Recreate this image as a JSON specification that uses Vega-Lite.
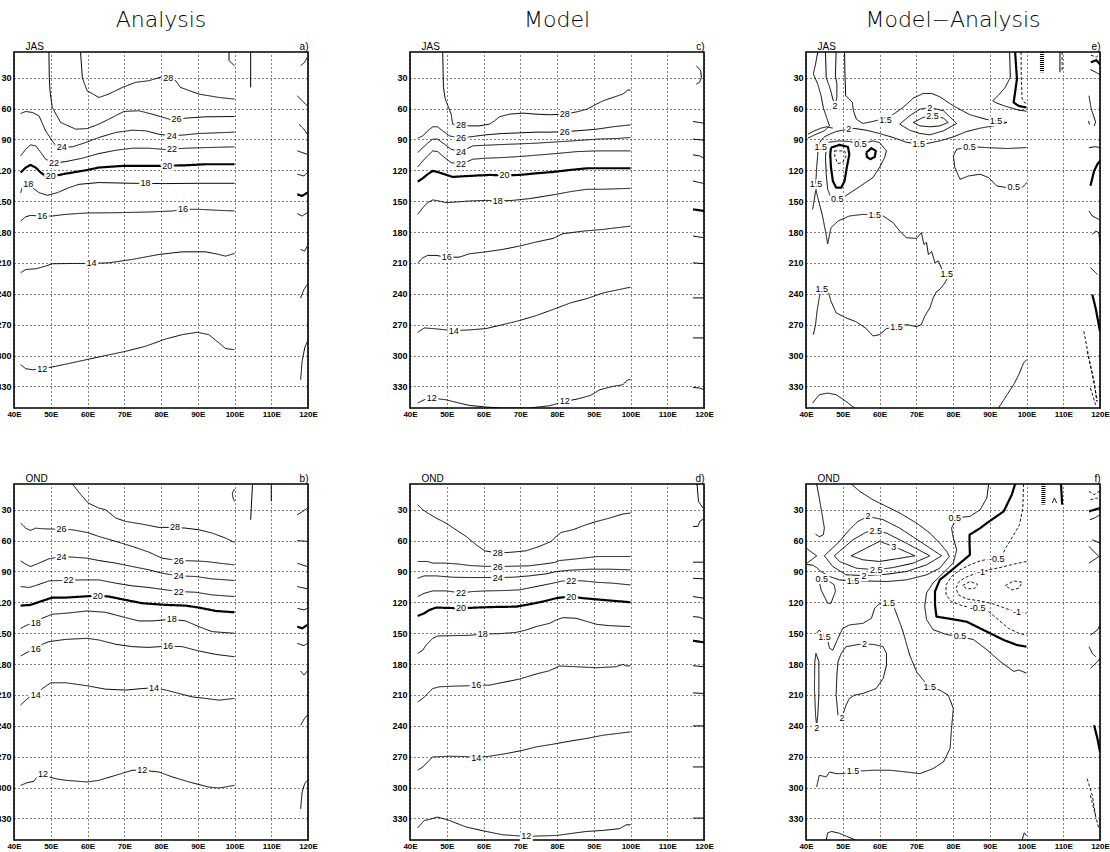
{
"$schema": "https://vega.github.io/schema/vega-lite/v6.json",
"background": "white",
"padding": {"left": -5, "top": 8, "right": 0, "bottom": 0},
"config": {
  "view": {"stroke": "black", "strokeWidth": 1.6},
  "axis": {"labelFont": "Liberation Sans", "labelFontWeight": "bold", "labelColor": "black", "titleFont": "Liberation Sans", "titleFontWeight": "normal", "titleColor": "black", "domain": false, "ticks": false, "labelFlush": false, "labelOverlap": false},
  "title": {"font": "DejaVu Sans", "color": "black", "anchor": "middle"}
},
"datasets": {
"L": [
{"p":"a","id":"a1","t":"c","x":58.1,"y":5},{"p":"a","id":"a1","t":"c","x":58.6,"y":30},{"p":"a","id":"a1","t":"c","x":59.9,"y":42.7},{"p":"a","id":"a1","t":"c","x":63.1,"y":49.2},{"p":"a","id":"a1","t":"c","x":65.8,"y":45.9},{"p":"a","id":"a1","t":"c","x":69.5,"y":39.4},{"p":"a","id":"a1","t":"c","x":73.1,"y":34.5},{"p":"a","id":"a1","t":"c","x":76.7,"y":32.9},{"p":"a","id":"a1","t":"c","x":80.3,"y":29},{"p":"a","id":"a1","t":"c","x":84,"y":32.9},{"p":"a","id":"a1","t":"c","x":85.3,"y":39.4},{"p":"a","id":"a1","t":"c","x":90.3,"y":45.9},{"p":"a","id":"a1","t":"c","x":95.8,"y":49.2},{"p":"a","id":"a1","t":"c","x":100,"y":50.8},
{"p":"a","id":"a2","t":"c","x":49.5,"y":5},{"p":"a","id":"a2","t":"c","x":49.6,"y":30},{"p":"a","id":"a2","t":"c","x":49.8,"y":42.7},{"p":"a","id":"a2","t":"c","x":50.4,"y":58.9},{"p":"a","id":"a2","t":"c","x":52.7,"y":73.5},{"p":"a","id":"a2","t":"c","x":56.8,"y":80},{"p":"a","id":"a2","t":"c","x":59.9,"y":79.4},{"p":"a","id":"a2","t":"c","x":63.1,"y":75.1},{"p":"a","id":"a2","t":"c","x":65.8,"y":70.3},{"p":"a","id":"a2","t":"c","x":69.9,"y":62.8},{"p":"a","id":"a2","t":"c","x":74,"y":62.1},{"p":"a","id":"a2","t":"c","x":77.6,"y":65.4},{"p":"a","id":"a2","t":"c","x":83.1,"y":71.2},{"p":"a","id":"a2","t":"c","x":86.7,"y":69.3},{"p":"a","id":"a2","t":"c","x":92.1,"y":68},{"p":"a","id":"a2","t":"c","x":100,"y":67.7},
{"p":"a","id":"a3","t":"c","x":41.8,"y":64.7},{"p":"a","id":"a3","t":"c","x":43.2,"y":62.8},{"p":"a","id":"a3","t":"c","x":45,"y":63.8},{"p":"a","id":"a3","t":"c","x":46.8,"y":67},{"p":"a","id":"a3","t":"c","x":48.6,"y":81.6},{"p":"a","id":"a3","t":"c","x":50.4,"y":91.4},{"p":"a","id":"a3","t":"c","x":51.8,"y":97.9},{"p":"a","id":"a3","t":"c","x":55.9,"y":97.2},{"p":"a","id":"a3","t":"c","x":59.5,"y":93},{"p":"a","id":"a3","t":"c","x":63.1,"y":88.1},{"p":"a","id":"a3","t":"c","x":67.7,"y":83.2},{"p":"a","id":"a3","t":"c","x":72.2,"y":81},{"p":"a","id":"a3","t":"c","x":75.8,"y":81.6},{"p":"a","id":"a3","t":"c","x":79.4,"y":84.9},{"p":"a","id":"a3","t":"c","x":82.9,"y":86.5},{"p":"a","id":"a3","t":"c","x":86.7,"y":85.5},{"p":"a","id":"a3","t":"c","x":90.3,"y":84.2},{"p":"a","id":"a3","t":"c","x":100,"y":82.9},
{"p":"a","id":"a4","t":"c","x":41.8,"y":106},{"p":"a","id":"a4","t":"c","x":43.2,"y":99.5},{"p":"a","id":"a4","t":"c","x":44.5,"y":95.3},{"p":"a","id":"a4","t":"c","x":45.9,"y":96.2},{"p":"a","id":"a4","t":"c","x":47.3,"y":102.7},{"p":"a","id":"a4","t":"c","x":48.6,"y":109.2},{"p":"a","id":"a4","t":"c","x":50.9,"y":112.8},{"p":"a","id":"a4","t":"c","x":54.1,"y":111.5},{"p":"a","id":"a4","t":"c","x":58.6,"y":108.2},{"p":"a","id":"a4","t":"c","x":63.1,"y":103.7},{"p":"a","id":"a4","t":"c","x":67.7,"y":100.5},{"p":"a","id":"a4","t":"c","x":72.2,"y":98.5},{"p":"a","id":"a4","t":"c","x":76.7,"y":98.5},{"p":"a","id":"a4","t":"c","x":81.3,"y":99.8},{"p":"a","id":"a4","t":"c","x":86.7,"y":98.5},{"p":"a","id":"a4","t":"c","x":92.1,"y":97.9},{"p":"a","id":"a4","t":"c","x":100,"y":97.2},
{"p":"a","id":"a5","t":"z","x":41.8,"y":122.2},{"p":"a","id":"a5","t":"z","x":43.2,"y":117.3},{"p":"a","id":"a5","t":"z","x":44.5,"y":114.7},{"p":"a","id":"a5","t":"z","x":45.9,"y":117.3},{"p":"a","id":"a5","t":"z","x":47.3,"y":122.2},{"p":"a","id":"a5","t":"z","x":48.6,"y":125.5},{"p":"a","id":"a5","t":"z","x":50,"y":126.1},{"p":"a","id":"a5","t":"z","x":54.1,"y":123.2},{"p":"a","id":"a5","t":"z","x":59.5,"y":120},{"p":"a","id":"a5","t":"z","x":63.1,"y":117.3},{"p":"a","id":"a5","t":"z","x":69.5,"y":115.7},{"p":"a","id":"a5","t":"z","x":79.4,"y":115.7},{"p":"a","id":"a5","t":"z","x":86.7,"y":115.1},{"p":"a","id":"a5","t":"z","x":92.1,"y":114.1},{"p":"a","id":"a5","t":"z","x":100,"y":114.1},
{"p":"a","id":"a6","t":"c","x":41.8,"y":141.7},{"p":"a","id":"a6","t":"c","x":42.5,"y":134},{"p":"a","id":"a6","t":"c","x":43.9,"y":132.9},{"p":"a","id":"a6","t":"c","x":45,"y":136.8},{"p":"a","id":"a6","t":"c","x":46.8,"y":141.7},{"p":"a","id":"a6","t":"c","x":49.1,"y":144.3},{"p":"a","id":"a6","t":"c","x":51.8,"y":141.7},{"p":"a","id":"a6","t":"c","x":55,"y":136.8},{"p":"a","id":"a6","t":"c","x":57.7,"y":133.6},{"p":"a","id":"a6","t":"c","x":63.1,"y":131.9},{"p":"a","id":"a6","t":"c","x":72.2,"y":132.6},{"p":"a","id":"a6","t":"c","x":81.3,"y":132.9},{"p":"a","id":"a6","t":"c","x":90.3,"y":132.6},{"p":"a","id":"a6","t":"c","x":100,"y":132.6},
{"p":"a","id":"a7","t":"c","x":41.8,"y":169.3},{"p":"a","id":"a7","t":"c","x":43.2,"y":165.1},{"p":"a","id":"a7","t":"c","x":44.5,"y":163.8},{"p":"a","id":"a7","t":"c","x":47.7,"y":164.5},{"p":"a","id":"a7","t":"c","x":50.4,"y":164.4},{"p":"a","id":"a7","t":"c","x":54.1,"y":162.8},{"p":"a","id":"a7","t":"c","x":59.5,"y":161.5},{"p":"a","id":"a7","t":"c","x":67.7,"y":161.2},{"p":"a","id":"a7","t":"c","x":76.7,"y":160.5},{"p":"a","id":"a7","t":"c","x":83.1,"y":159.5},{"p":"a","id":"a7","t":"c","x":86,"y":157.9},{"p":"a","id":"a7","t":"c","x":90.3,"y":157.9},{"p":"a","id":"a7","t":"c","x":95.8,"y":158.9},{"p":"a","id":"a7","t":"c","x":100,"y":159.5},
{"p":"a","id":"a8","t":"c","x":41.8,"y":219.6},{"p":"a","id":"a8","t":"c","x":43.2,"y":216.4},{"p":"a","id":"a8","t":"c","x":45.9,"y":215.7},{"p":"a","id":"a8","t":"c","x":48.6,"y":213.1},{"p":"a","id":"a8","t":"c","x":50.4,"y":210.8},{"p":"a","id":"a8","t":"c","x":56.8,"y":210.5},{"p":"a","id":"a8","t":"c","x":61.1,"y":210.5},{"p":"a","id":"a8","t":"c","x":65.8,"y":209.9},{"p":"a","id":"a8","t":"c","x":72.2,"y":206.6},{"p":"a","id":"a8","t":"c","x":79.4,"y":201.8},{"p":"a","id":"a8","t":"c","x":85.8,"y":199.2},{"p":"a","id":"a8","t":"c","x":92.1,"y":199.2},{"p":"a","id":"a8","t":"c","x":94.9,"y":201.1},{"p":"a","id":"a8","t":"c","x":97.6,"y":203.4},{"p":"a","id":"a8","t":"c","x":100,"y":200.8},
{"p":"a","id":"a9","t":"c","x":41.8,"y":308.9},{"p":"a","id":"a9","t":"c","x":43.2,"y":312.8},{"p":"a","id":"a9","t":"c","x":45,"y":313.8},{"p":"a","id":"a9","t":"c","x":47.7,"y":312.8},{"p":"a","id":"a9","t":"c","x":51.3,"y":310.5},{"p":"a","id":"a9","t":"c","x":56.8,"y":306.3},{"p":"a","id":"a9","t":"c","x":63.1,"y":301.4},{"p":"a","id":"a9","t":"c","x":70.4,"y":295.9},{"p":"a","id":"a9","t":"c","x":75.8,"y":291},{"p":"a","id":"a9","t":"c","x":81.3,"y":283.9},{"p":"a","id":"a9","t":"c","x":85.8,"y":279.7},{"p":"a","id":"a9","t":"c","x":89.9,"y":277.4},{"p":"a","id":"a9","t":"c","x":93,"y":279.7},{"p":"a","id":"a9","t":"c","x":95.8,"y":287.8},{"p":"a","id":"a9","t":"c","x":97.6,"y":293.3},{"p":"a","id":"a9","t":"c","x":100,"y":294.3},
{"p":"a","id":"a10","t":"c","x":98.5,"y":5},{"p":"a","id":"a10","t":"c","x":98.5,"y":13.4},{"p":"a","id":"a10","t":"c","x":100,"y":18.3},
{"p":"a","id":"a11","t":"c","x":104.4,"y":5},{"p":"a","id":"a11","t":"c","x":104.4,"y":39.4},
{"p":"a","id":"a12","t":"c","x":118,"y":18.3},{"p":"a","id":"a12","t":"c","x":119.1,"y":15},{"p":"a","id":"a12","t":"c","x":119.8,"y":10.2},
{"p":"a","id":"a13","t":"c","x":117.1,"y":47.5},{"p":"a","id":"a13","t":"c","x":118.4,"y":52.4},{"p":"a","id":"a13","t":"c","x":119.8,"y":57.3},
{"p":"a","id":"a14","t":"c","x":117.5,"y":75.1},{"p":"a","id":"a14","t":"c","x":118.9,"y":80},{"p":"a","id":"a14","t":"c","x":119.8,"y":84.9},
{"p":"a","id":"a15","t":"c","x":117.1,"y":101.1},{"p":"a","id":"a15","t":"c","x":118.4,"y":102.7},{"p":"a","id":"a15","t":"c","x":119.8,"y":104.4},
{"p":"a","id":"a16","t":"c","x":117.1,"y":123.8},{"p":"a","id":"a16","t":"c","x":118.9,"y":125.5},{"p":"a","id":"a16","t":"c","x":119.8,"y":122.2},
{"p":"a","id":"a17","t":"z","x":117.1,"y":143.3},{"p":"a","id":"a17","t":"z","x":118.4,"y":144.9},{"p":"a","id":"a17","t":"z","x":119.8,"y":141.7},
{"p":"a","id":"a18","t":"c","x":117.1,"y":162.1},{"p":"a","id":"a18","t":"c","x":118.4,"y":164.4},{"p":"a","id":"a18","t":"c","x":119.8,"y":161.2},
{"p":"a","id":"a19","t":"c","x":118,"y":196.9},{"p":"a","id":"a19","t":"c","x":119.1,"y":198.5},{"p":"a","id":"a19","t":"c","x":119.8,"y":193.8},
{"p":"a","id":"a20","t":"c","x":118,"y":244},{"p":"a","id":"a20","t":"c","x":118.9,"y":235.8},{"p":"a","id":"a20","t":"c","x":119.8,"y":231},
{"p":"a","id":"a21","t":"c","x":118,"y":323.5},{"p":"a","id":"a21","t":"c","x":118.4,"y":305.6},{"p":"a","id":"a21","t":"c","x":119.1,"y":292.7},{"p":"a","id":"a21","t":"c","x":119.8,"y":286.2},

{"p":"b","id":"b1","t":"c","x":55.9,"y":5},{"p":"b","id":"b1","t":"c","x":58.2,"y":15.4},{"p":"b","id":"b1","t":"c","x":60.2,"y":23.5},{"p":"b","id":"b1","t":"c","x":63.1,"y":28.4},{"p":"b","id":"b1","t":"c","x":64.9,"y":30},{"p":"b","id":"b1","t":"c","x":67.7,"y":38.1},{"p":"b","id":"b1","t":"c","x":70.4,"y":41.4},{"p":"b","id":"b1","t":"c","x":74.9,"y":44},{"p":"b","id":"b1","t":"c","x":79.4,"y":47.2},{"p":"b","id":"b1","t":"c","x":83.8,"y":47.2},{"p":"b","id":"b1","t":"c","x":86.7,"y":47.9},{"p":"b","id":"b1","t":"c","x":90.3,"y":49.5},{"p":"b","id":"b1","t":"c","x":93.9,"y":52.7},{"p":"b","id":"b1","t":"c","x":97.6,"y":57.6},{"p":"b","id":"b1","t":"c","x":100,"y":61.8},
{"p":"b","id":"b2","t":"c","x":41.8,"y":43},{"p":"b","id":"b2","t":"c","x":43.2,"y":47.9},{"p":"b","id":"b2","t":"c","x":44.5,"y":50.1},{"p":"b","id":"b2","t":"c","x":45.9,"y":47.9},{"p":"b","id":"b2","t":"c","x":47.7,"y":48.5},{"p":"b","id":"b2","t":"c","x":50.4,"y":48.8},{"p":"b","id":"b2","t":"c","x":52.9,"y":48.8},{"p":"b","id":"b2","t":"c","x":55.9,"y":49.5},{"p":"b","id":"b2","t":"c","x":59.9,"y":52.1},{"p":"b","id":"b2","t":"c","x":63.1,"y":56},{"p":"b","id":"b2","t":"c","x":67.7,"y":60.8},{"p":"b","id":"b2","t":"c","x":72.2,"y":65.7},{"p":"b","id":"b2","t":"c","x":76.7,"y":71.2},{"p":"b","id":"b2","t":"c","x":80.3,"y":77.1},{"p":"b","id":"b2","t":"c","x":84.8,"y":79.4},{"p":"b","id":"b2","t":"c","x":88.5,"y":79.7},{"p":"b","id":"b2","t":"c","x":92.1,"y":80.3},{"p":"b","id":"b2","t":"c","x":95.8,"y":81.9},{"p":"b","id":"b2","t":"c","x":100,"y":83.6},
{"p":"b","id":"b3","t":"c","x":41.8,"y":79.7},{"p":"b","id":"b3","t":"c","x":43.2,"y":82.9},{"p":"b","id":"b3","t":"c","x":44.5,"y":85.2},{"p":"b","id":"b3","t":"c","x":46.8,"y":81.9},{"p":"b","id":"b3","t":"c","x":49.5,"y":77.7},{"p":"b","id":"b3","t":"c","x":52.9,"y":75.5},{"p":"b","id":"b3","t":"c","x":55.9,"y":76.1},{"p":"b","id":"b3","t":"c","x":59.9,"y":77.1},{"p":"b","id":"b3","t":"c","x":63.1,"y":79.4},{"p":"b","id":"b3","t":"c","x":67.7,"y":81.9},{"p":"b","id":"b3","t":"c","x":72.2,"y":85.2},{"p":"b","id":"b3","t":"c","x":76.7,"y":88.4},{"p":"b","id":"b3","t":"c","x":80.3,"y":91.7},{"p":"b","id":"b3","t":"c","x":84.8,"y":94.3},{"p":"b","id":"b3","t":"c","x":89.4,"y":94.9},{"p":"b","id":"b3","t":"c","x":93.9,"y":97.2},{"p":"b","id":"b3","t":"c","x":100,"y":98.8},
{"p":"b","id":"b4","t":"c","x":41.8,"y":104.7},{"p":"b","id":"b4","t":"c","x":44.1,"y":105.6},{"p":"b","id":"b4","t":"c","x":45.9,"y":103.7},{"p":"b","id":"b4","t":"c","x":49.5,"y":99.2},{"p":"b","id":"b4","t":"c","x":54.8,"y":98.5},{"p":"b","id":"b4","t":"c","x":58.6,"y":98.2},{"p":"b","id":"b4","t":"c","x":63.1,"y":98.2},{"p":"b","id":"b4","t":"c","x":67.7,"y":101.4},{"p":"b","id":"b4","t":"c","x":72.2,"y":104},{"p":"b","id":"b4","t":"c","x":76.7,"y":105.6},{"p":"b","id":"b4","t":"c","x":81.3,"y":107.9},{"p":"b","id":"b4","t":"c","x":84.8,"y":109.5},{"p":"b","id":"b4","t":"c","x":89.4,"y":110.2},{"p":"b","id":"b4","t":"c","x":93.9,"y":112.8},{"p":"b","id":"b4","t":"c","x":100,"y":114.4},
{"p":"b","id":"b5","t":"z","x":41.8,"y":123.2},{"p":"b","id":"b5","t":"z","x":44.5,"y":122.5},{"p":"b","id":"b5","t":"z","x":47.7,"y":118.6},{"p":"b","id":"b5","t":"z","x":50.4,"y":115.4},{"p":"b","id":"b5","t":"z","x":54.1,"y":115.4},{"p":"b","id":"b5","t":"z","x":58.6,"y":114.4},{"p":"b","id":"b5","t":"z","x":62.8,"y":113.4},{"p":"b","id":"b5","t":"z","x":65.8,"y":114.4},{"p":"b","id":"b5","t":"z","x":70.4,"y":117.7},{"p":"b","id":"b5","t":"z","x":74.9,"y":120.9},{"p":"b","id":"b5","t":"z","x":81.3,"y":122.5},{"p":"b","id":"b5","t":"z","x":86.7,"y":123.2},{"p":"b","id":"b5","t":"z","x":90.3,"y":125.1},{"p":"b","id":"b5","t":"z","x":94.9,"y":128.4},{"p":"b","id":"b5","t":"z","x":100,"y":129.7},
{"p":"b","id":"b6","t":"c","x":41.8,"y":145.3},{"p":"b","id":"b6","t":"c","x":43.6,"y":142},{"p":"b","id":"b6","t":"c","x":45.9,"y":139.7},{"p":"b","id":"b6","t":"c","x":47.7,"y":135.5},{"p":"b","id":"b6","t":"c","x":50.4,"y":131.6},{"p":"b","id":"b6","t":"c","x":54.1,"y":130.6},{"p":"b","id":"b6","t":"c","x":59.9,"y":128.4},{"p":"b","id":"b6","t":"c","x":64.9,"y":129.7},{"p":"b","id":"b6","t":"c","x":70.4,"y":134.9},{"p":"b","id":"b6","t":"c","x":74,"y":138.1},{"p":"b","id":"b6","t":"c","x":77.6,"y":138.1},{"p":"b","id":"b6","t":"c","x":82.9,"y":136.5},{"p":"b","id":"b6","t":"c","x":86.7,"y":138.1},{"p":"b","id":"b6","t":"c","x":90.3,"y":143.6},{"p":"b","id":"b6","t":"c","x":93.9,"y":148.5},{"p":"b","id":"b6","t":"c","x":100,"y":150.1},
{"p":"b","id":"b7","t":"c","x":41.8,"y":172.2},{"p":"b","id":"b7","t":"c","x":43.6,"y":168.6},{"p":"b","id":"b7","t":"c","x":45.9,"y":165.7},{"p":"b","id":"b7","t":"c","x":47.7,"y":160.8},{"p":"b","id":"b7","t":"c","x":49.5,"y":158.2},{"p":"b","id":"b7","t":"c","x":54.1,"y":156},{"p":"b","id":"b7","t":"c","x":59.9,"y":155},{"p":"b","id":"b7","t":"c","x":63.1,"y":156.6},{"p":"b","id":"b7","t":"c","x":67.7,"y":160.8},{"p":"b","id":"b7","t":"c","x":72.2,"y":163.1},{"p":"b","id":"b7","t":"c","x":76.7,"y":163.8},{"p":"b","id":"b7","t":"c","x":81.9,"y":162.5},{"p":"b","id":"b7","t":"c","x":85.8,"y":163.1},{"p":"b","id":"b7","t":"c","x":90.3,"y":167.3},{"p":"b","id":"b7","t":"c","x":94.9,"y":170.6},{"p":"b","id":"b7","t":"c","x":100,"y":172.9},
{"p":"b","id":"b8","t":"c","x":41.8,"y":219.9},{"p":"b","id":"b8","t":"c","x":43.2,"y":215.1},{"p":"b","id":"b8","t":"c","x":44.5,"y":211.2},{"p":"b","id":"b8","t":"c","x":45.9,"y":210.2},{"p":"b","id":"b8","t":"c","x":47.7,"y":203.8},{"p":"b","id":"b8","t":"c","x":50,"y":198.2},{"p":"b","id":"b8","t":"c","x":54.1,"y":198.2},{"p":"b","id":"b8","t":"c","x":59.9,"y":201.1},{"p":"b","id":"b8","t":"c","x":64.9,"y":204.4},{"p":"b","id":"b8","t":"c","x":70.4,"y":205.3},{"p":"b","id":"b8","t":"c","x":74.9,"y":203.8},{"p":"b","id":"b8","t":"c","x":78.1,"y":203.1},{"p":"b","id":"b8","t":"c","x":81.3,"y":205.3},{"p":"b","id":"b8","t":"c","x":84.9,"y":208.6},{"p":"b","id":"b8","t":"c","x":88.5,"y":211.9},{"p":"b","id":"b8","t":"c","x":92.1,"y":213.4},{"p":"b","id":"b8","t":"c","x":95.8,"y":215.1},{"p":"b","id":"b8","t":"c","x":100,"y":213.4},
{"p":"b","id":"b9","t":"c","x":41.8,"y":297.9},{"p":"b","id":"b9","t":"c","x":43.6,"y":295.3},{"p":"b","id":"b9","t":"c","x":45.4,"y":294},{"p":"b","id":"b9","t":"c","x":46.3,"y":289.7},{"p":"b","id":"b9","t":"c","x":47.9,"y":286.5},{"p":"b","id":"b9","t":"c","x":49.5,"y":289.7},{"p":"b","id":"b9","t":"c","x":51.3,"y":291.4},{"p":"b","id":"b9","t":"c","x":54.1,"y":293},{"p":"b","id":"b9","t":"c","x":59.9,"y":294.6},{"p":"b","id":"b9","t":"c","x":63.1,"y":293},{"p":"b","id":"b9","t":"c","x":67.7,"y":288.1},{"p":"b","id":"b9","t":"c","x":72.2,"y":283.2},{"p":"b","id":"b9","t":"c","x":74.9,"y":283.2},{"p":"b","id":"b9","t":"c","x":79.4,"y":284.9},{"p":"b","id":"b9","t":"c","x":83.1,"y":289.7},{"p":"b","id":"b9","t":"c","x":87.6,"y":294.6},{"p":"b","id":"b9","t":"c","x":93,"y":299.5},{"p":"b","id":"b9","t":"c","x":95.8,"y":300.5},{"p":"b","id":"b9","t":"c","x":100,"y":297.9},
{"p":"b","id":"b10","t":"c","x":100,"y":9.9},{"p":"b","id":"b10","t":"c","x":99.4,"y":13.8},{"p":"b","id":"b10","t":"c","x":99.6,"y":18.6},{"p":"b","id":"b10","t":"c","x":100,"y":21.9},
{"p":"b","id":"b11","t":"c","x":104.9,"y":5},{"p":"b","id":"b11","t":"c","x":104.4,"y":39.7},
{"p":"b","id":"b12","t":"c","x":110,"y":5},{"p":"b","id":"b12","t":"c","x":110,"y":21.9},
{"p":"b","id":"b13","t":"c","x":117.1,"y":34.9},{"p":"b","id":"b13","t":"c","x":118.6,"y":31.6},{"p":"b","id":"b13","t":"c","x":119.8,"y":28.4},
{"p":"b","id":"b14","t":"c","x":117.1,"y":59.9},{"p":"b","id":"b14","t":"c","x":119.8,"y":60.8},
{"p":"b","id":"b15","t":"c","x":117.1,"y":82},{"p":"b","id":"b15","t":"c","x":118.9,"y":84.2},{"p":"b","id":"b15","t":"c","x":119.8,"y":85.2},
{"p":"b","id":"b16","t":"c","x":117.1,"y":104.7},{"p":"b","id":"b16","t":"c","x":119.8,"y":106.9},
{"p":"b","id":"b17","t":"c","x":117.1,"y":125.8},{"p":"b","id":"b17","t":"c","x":118.9,"y":127.4},{"p":"b","id":"b17","t":"c","x":119.8,"y":125.8},
{"p":"b","id":"b18","t":"z","x":117.1,"y":143.6},{"p":"b","id":"b18","t":"z","x":118.4,"y":145.3},{"p":"b","id":"b18","t":"z","x":119.8,"y":142},
{"p":"b","id":"b19","t":"c","x":117.1,"y":159.9},{"p":"b","id":"b19","t":"c","x":118.9,"y":162.1},{"p":"b","id":"b19","t":"c","x":119.8,"y":159.9},
{"p":"b","id":"b20","t":"c","x":118,"y":186.8},{"p":"b","id":"b20","t":"c","x":118.9,"y":190.7},{"p":"b","id":"b20","t":"c","x":119.8,"y":186.8},
{"p":"b","id":"b21","t":"c","x":118,"y":239.4},{"p":"b","id":"b21","t":"c","x":118.9,"y":233.6},{"p":"b","id":"b21","t":"c","x":119.8,"y":229.7},
{"p":"b","id":"b22","t":"c","x":118,"y":320.6},{"p":"b","id":"b22","t":"c","x":118.4,"y":304.4},{"p":"b","id":"b22","t":"c","x":119.1,"y":296.2},{"p":"b","id":"b22","t":"c","x":119.8,"y":293},

{"p":"c","id":"c1","t":"c","x":48.9,"y":5},{"p":"c","id":"c1","t":"c","x":49.1,"y":39.4},{"p":"c","id":"c1","t":"c","x":49.6,"y":50.8},{"p":"c","id":"c1","t":"c","x":50.5,"y":58.9},{"p":"c","id":"c1","t":"c","x":51.2,"y":65.4},{"p":"c","id":"c1","t":"c","x":51.6,"y":75.1},{"p":"c","id":"c1","t":"c","x":53.9,"y":76.1},{"p":"c","id":"c1","t":"c","x":56.2,"y":76.8},{"p":"c","id":"c1","t":"c","x":58.9,"y":76.8},{"p":"c","id":"c1","t":"c","x":61.6,"y":75.1},{"p":"c","id":"c1","t":"c","x":63,"y":71.9},{"p":"c","id":"c1","t":"c","x":64.3,"y":68},{"p":"c","id":"c1","t":"c","x":67.1,"y":65.4},{"p":"c","id":"c1","t":"c","x":70.7,"y":64.4},{"p":"c","id":"c1","t":"c","x":74.3,"y":65.4},{"p":"c","id":"c1","t":"c","x":78,"y":66},{"p":"c","id":"c1","t":"c","x":82.1,"y":65.4},{"p":"c","id":"c1","t":"c","x":85.5,"y":63.1},{"p":"c","id":"c1","t":"c","x":88.2,"y":60.5},{"p":"c","id":"c1","t":"c","x":90.8,"y":55.6},{"p":"c","id":"c1","t":"c","x":92.6,"y":52.4},{"p":"c","id":"c1","t":"c","x":95.2,"y":49.2},{"p":"c","id":"c1","t":"c","x":97.9,"y":45.9},{"p":"c","id":"c1","t":"c","x":99.3,"y":42},{"p":"c","id":"c1","t":"c","x":100,"y":42},
{"p":"c","id":"c2","t":"c","x":42.1,"y":88.8},{"p":"c","id":"c2","t":"c","x":43.5,"y":86.5},{"p":"c","id":"c2","t":"c","x":44.8,"y":81.6},{"p":"c","id":"c2","t":"c","x":46.2,"y":77.7},{"p":"c","id":"c2","t":"c","x":47.5,"y":77.7},{"p":"c","id":"c2","t":"c","x":48.9,"y":81.6},{"p":"c","id":"c2","t":"c","x":50.7,"y":86.5},{"p":"c","id":"c2","t":"c","x":53.9,"y":88.8},{"p":"c","id":"c2","t":"c","x":56.2,"y":87.5},{"p":"c","id":"c2","t":"c","x":60.7,"y":85.5},{"p":"c","id":"c2","t":"c","x":65.2,"y":84.2},{"p":"c","id":"c2","t":"c","x":69.8,"y":83.6},{"p":"c","id":"c2","t":"c","x":74.3,"y":82.9},{"p":"c","id":"c2","t":"c","x":78.4,"y":82.9},{"p":"c","id":"c2","t":"c","x":82.1,"y":82.3},{"p":"c","id":"c2","t":"c","x":85.5,"y":81.6},{"p":"c","id":"c2","t":"c","x":90.8,"y":80},{"p":"c","id":"c2","t":"c","x":95.2,"y":77.7},{"p":"c","id":"c2","t":"c","x":100,"y":75.8},
{"p":"c","id":"c3","t":"c","x":42.1,"y":102.7},{"p":"c","id":"c3","t":"c","x":43.5,"y":97.9},{"p":"c","id":"c3","t":"c","x":44.8,"y":93.6},{"p":"c","id":"c3","t":"c","x":46.2,"y":89.7},{"p":"c","id":"c3","t":"c","x":47.5,"y":89.7},{"p":"c","id":"c3","t":"c","x":49.4,"y":94.6},{"p":"c","id":"c3","t":"c","x":51.2,"y":99.5},{"p":"c","id":"c3","t":"c","x":53.9,"y":101.8},{"p":"c","id":"c3","t":"c","x":57.1,"y":96.2},{"p":"c","id":"c3","t":"c","x":60.7,"y":95.6},{"p":"c","id":"c3","t":"c","x":65.2,"y":94.9},{"p":"c","id":"c3","t":"c","x":69.8,"y":94.3},{"p":"c","id":"c3","t":"c","x":74.3,"y":93.6},{"p":"c","id":"c3","t":"c","x":79.8,"y":92.4},{"p":"c","id":"c3","t":"c","x":85.5,"y":91.1},{"p":"c","id":"c3","t":"c","x":90.8,"y":89.7},{"p":"c","id":"c3","t":"c","x":96.1,"y":89.1},{"p":"c","id":"c3","t":"c","x":100,"y":88.1},
{"p":"c","id":"c4","t":"c","x":42.1,"y":116.7},{"p":"c","id":"c4","t":"c","x":43.5,"y":110.8},{"p":"c","id":"c4","t":"c","x":44.8,"y":105.9},{"p":"c","id":"c4","t":"c","x":46.2,"y":101.1},{"p":"c","id":"c4","t":"c","x":47.5,"y":101.8},{"p":"c","id":"c4","t":"c","x":49.4,"y":107.6},{"p":"c","id":"c4","t":"c","x":51.2,"y":112.5},{"p":"c","id":"c4","t":"c","x":53.9,"y":114.1},{"p":"c","id":"c4","t":"c","x":57.1,"y":109.2},{"p":"c","id":"c4","t":"c","x":60.7,"y":108.2},{"p":"c","id":"c4","t":"c","x":65.2,"y":107.6},{"p":"c","id":"c4","t":"c","x":69.8,"y":106.6},{"p":"c","id":"c4","t":"c","x":74.3,"y":105.3},{"p":"c","id":"c4","t":"c","x":79.8,"y":103.7},{"p":"c","id":"c4","t":"c","x":85.5,"y":101.8},{"p":"c","id":"c4","t":"c","x":90.8,"y":101.1},{"p":"c","id":"c4","t":"c","x":96.1,"y":101.1},{"p":"c","id":"c4","t":"c","x":100,"y":101.1},
{"p":"c","id":"c5","t":"z","x":42.1,"y":131},{"p":"c","id":"c5","t":"z","x":43.5,"y":127.7},{"p":"c","id":"c5","t":"z","x":44.8,"y":123.8},{"p":"c","id":"c5","t":"z","x":46.2,"y":120.6},{"p":"c","id":"c5","t":"z","x":47.5,"y":121.6},{"p":"c","id":"c5","t":"z","x":49.4,"y":123.8},{"p":"c","id":"c5","t":"z","x":51.6,"y":126.4},{"p":"c","id":"c5","t":"z","x":54.4,"y":125.8},{"p":"c","id":"c5","t":"z","x":58,"y":125.1},{"p":"c","id":"c5","t":"z","x":61.6,"y":124.5},{"p":"c","id":"c5","t":"z","x":65.7,"y":124.8},{"p":"c","id":"c5","t":"z","x":69.8,"y":124.5},{"p":"c","id":"c5","t":"z","x":74.3,"y":122.9},{"p":"c","id":"c5","t":"z","x":78.9,"y":121.6},{"p":"c","id":"c5","t":"z","x":83.7,"y":119.6},{"p":"c","id":"c5","t":"z","x":88.2,"y":118},{"p":"c","id":"c5","t":"z","x":92.6,"y":118},{"p":"c","id":"c5","t":"z","x":100,"y":118},
{"p":"c","id":"c6","t":"c","x":42.1,"y":162.8},{"p":"c","id":"c6","t":"c","x":43.5,"y":156.3},{"p":"c","id":"c6","t":"c","x":44.8,"y":151.4},{"p":"c","id":"c6","t":"c","x":46.2,"y":148.8},{"p":"c","id":"c6","t":"c","x":47.5,"y":149.5},{"p":"c","id":"c6","t":"c","x":49.8,"y":151.4},{"p":"c","id":"c6","t":"c","x":52.5,"y":150.8},{"p":"c","id":"c6","t":"c","x":56.2,"y":149.8},{"p":"c","id":"c6","t":"c","x":60.7,"y":149.2},{"p":"c","id":"c6","t":"c","x":63.9,"y":149.8},{"p":"c","id":"c6","t":"c","x":68,"y":149.2},{"p":"c","id":"c6","t":"c","x":72.5,"y":147.5},{"p":"c","id":"c6","t":"c","x":77.1,"y":144.9},{"p":"c","id":"c6","t":"c","x":79.8,"y":143.3},{"p":"c","id":"c6","t":"c","x":83.7,"y":140.7},{"p":"c","id":"c6","t":"c","x":88.2,"y":138.4},{"p":"c","id":"c6","t":"c","x":92.6,"y":138.4},{"p":"c","id":"c6","t":"c","x":100,"y":137.5},
{"p":"c","id":"c7","t":"c","x":42.1,"y":209.9},{"p":"c","id":"c7","t":"c","x":43.5,"y":205},{"p":"c","id":"c7","t":"c","x":44.8,"y":202.7},{"p":"c","id":"c7","t":"c","x":47.1,"y":202.7},{"p":"c","id":"c7","t":"c","x":50,"y":204.4},{"p":"c","id":"c7","t":"c","x":53.4,"y":204.4},{"p":"c","id":"c7","t":"c","x":56.2,"y":201.1},{"p":"c","id":"c7","t":"c","x":60.7,"y":199.2},{"p":"c","id":"c7","t":"c","x":65.2,"y":196.9},{"p":"c","id":"c7","t":"c","x":69.8,"y":193.6},{"p":"c","id":"c7","t":"c","x":74.3,"y":189.7},{"p":"c","id":"c7","t":"c","x":78.9,"y":186.2},{"p":"c","id":"c7","t":"c","x":81.6,"y":181.6},{"p":"c","id":"c7","t":"c","x":87.3,"y":179},{"p":"c","id":"c7","t":"c","x":92.6,"y":177.4},{"p":"c","id":"c7","t":"c","x":100,"y":174.2},
{"p":"c","id":"c8","t":"c","x":42.1,"y":277.4},{"p":"c","id":"c8","t":"c","x":43.9,"y":273.2},{"p":"c","id":"c8","t":"c","x":46.2,"y":273.8},{"p":"c","id":"c8","t":"c","x":51.9,"y":275.8},{"p":"c","id":"c8","t":"c","x":56.2,"y":275.1},{"p":"c","id":"c8","t":"c","x":60.7,"y":273.8},{"p":"c","id":"c8","t":"c","x":65.2,"y":270},{"p":"c","id":"c8","t":"c","x":69.8,"y":266},{"p":"c","id":"c8","t":"c","x":74.3,"y":261.2},{"p":"c","id":"c8","t":"c","x":78.9,"y":255.3},{"p":"c","id":"c8","t":"c","x":83.7,"y":248.8},{"p":"c","id":"c8","t":"c","x":88.2,"y":244.6},{"p":"c","id":"c8","t":"c","x":92.6,"y":239.1},{"p":"c","id":"c8","t":"c","x":97,"y":235.8},{"p":"c","id":"c8","t":"c","x":100,"y":233.6},
{"p":"c","id":"c9","t":"c","x":42.1,"y":346.2},{"p":"c","id":"c9","t":"c","x":43.9,"y":343},{"p":"c","id":"c9","t":"c","x":45.9,"y":341.4},{"p":"c","id":"c9","t":"c","x":49.8,"y":343},{"p":"c","id":"c9","t":"c","x":53.4,"y":346.2},{"p":"c","id":"c9","t":"c","x":56.2,"y":348.5},{"p":"c","id":"c9","t":"c","x":60.7,"y":350.1},{"p":"c","id":"c9","t":"c","x":65.2,"y":351},{"p":"c","id":"c9","t":"c","x":72.5,"y":351},{"p":"c","id":"c9","t":"c","x":78,"y":348.8},{"p":"c","id":"c9","t":"c","x":82.1,"y":344.6},{"p":"c","id":"c9","t":"c","x":85.5,"y":342.3},{"p":"c","id":"c9","t":"c","x":89.1,"y":338.8},{"p":"c","id":"c9","t":"c","x":91.7,"y":333.2},{"p":"c","id":"c9","t":"c","x":95.2,"y":330},{"p":"c","id":"c9","t":"c","x":97.9,"y":328.4},{"p":"c","id":"c9","t":"c","x":99.3,"y":323.5},{"p":"c","id":"c9","t":"c","x":100,"y":323.5},
{"p":"c","id":"c10","t":"c","x":117.9,"y":18.3},{"p":"c","id":"c10","t":"c","x":119.1,"y":23.2},{"p":"c","id":"c10","t":"c","x":119.3,"y":29.7},{"p":"c","id":"c10","t":"c","x":118.8,"y":34.5},{"p":"c","id":"c10","t":"c","x":117.9,"y":36.1},
{"p":"c","id":"c11","t":"c","x":117,"y":72.5},{"p":"c","id":"c11","t":"c","x":120,"y":74.2},
{"p":"c","id":"c12","t":"c","x":117,"y":89.7},{"p":"c","id":"c12","t":"c","x":120,"y":90.7},
{"p":"c","id":"c13","t":"c","x":117,"y":105},{"p":"c","id":"c13","t":"c","x":118.8,"y":106},{"p":"c","id":"c13","t":"c","x":120,"y":108.2},
{"p":"c","id":"c14","t":"c","x":117,"y":130.3},{"p":"c","id":"c14","t":"c","x":118.8,"y":131.9},{"p":"c","id":"c14","t":"c","x":120,"y":132.9},
{"p":"c","id":"c15","t":"z","x":117,"y":157.9},{"p":"c","id":"c15","t":"z","x":120,"y":159.5},
{"p":"c","id":"c16","t":"c","x":117,"y":183.9},{"p":"c","id":"c16","t":"c","x":120,"y":185.5},
{"p":"c","id":"c17","t":"c","x":117,"y":209.9},{"p":"c","id":"c17","t":"c","x":120,"y":210.8},
{"p":"c","id":"c18","t":"c","x":117,"y":244},{"p":"c","id":"c18","t":"c","x":120,"y":244},
{"p":"c","id":"c19","t":"c","x":117,"y":282.9},{"p":"c","id":"c19","t":"c","x":120,"y":282.9},
{"p":"c","id":"c20","t":"c","x":117,"y":331},{"p":"c","id":"c20","t":"c","x":118.8,"y":331.6},{"p":"c","id":"c20","t":"c","x":120,"y":333.2},

{"p":"d","id":"d1","t":"c","x":42.1,"y":25.1},{"p":"d","id":"d1","t":"c","x":43.5,"y":30},{"p":"d","id":"d1","t":"c","x":44.8,"y":33.2},{"p":"d","id":"d1","t":"c","x":47.1,"y":38.1},{"p":"d","id":"d1","t":"c","x":49.8,"y":43},{"p":"d","id":"d1","t":"c","x":52.5,"y":49.5},{"p":"d","id":"d1","t":"c","x":55.3,"y":56},{"p":"d","id":"d1","t":"c","x":58,"y":64.1},{"p":"d","id":"d1","t":"c","x":60.3,"y":69.9},{"p":"d","id":"d1","t":"c","x":63.9,"y":72.2},{"p":"d","id":"d1","t":"c","x":68,"y":71.2},{"p":"d","id":"d1","t":"c","x":71.6,"y":69.9},{"p":"d","id":"d1","t":"c","x":75.2,"y":65.7},{"p":"d","id":"d1","t":"c","x":78.4,"y":60.8},{"p":"d","id":"d1","t":"c","x":79.8,"y":56},{"p":"d","id":"d1","t":"c","x":81.1,"y":52.1},{"p":"d","id":"d1","t":"c","x":84.3,"y":49.5},{"p":"d","id":"d1","t":"c","x":87.9,"y":44.6},{"p":"d","id":"d1","t":"c","x":90.8,"y":41.4},{"p":"d","id":"d1","t":"c","x":94.3,"y":38.1},{"p":"d","id":"d1","t":"c","x":97.9,"y":34.2},{"p":"d","id":"d1","t":"c","x":100,"y":33.2},
{"p":"d","id":"d2","t":"c","x":42.1,"y":80.3},{"p":"d","id":"d2","t":"c","x":44.8,"y":80.3},{"p":"d","id":"d2","t":"c","x":46.2,"y":81.9},{"p":"d","id":"d2","t":"c","x":49.8,"y":81.9},{"p":"d","id":"d2","t":"c","x":53.4,"y":82.9},{"p":"d","id":"d2","t":"c","x":56.2,"y":84.2},{"p":"d","id":"d2","t":"c","x":59.8,"y":84.9},{"p":"d","id":"d2","t":"c","x":63.9,"y":85.2},{"p":"d","id":"d2","t":"c","x":68,"y":84.9},{"p":"d","id":"d2","t":"c","x":72.5,"y":84.5},{"p":"d","id":"d2","t":"c","x":76.1,"y":82.9},{"p":"d","id":"d2","t":"c","x":79.3,"y":81.3},{"p":"d","id":"d2","t":"c","x":80.7,"y":79.4},{"p":"d","id":"d2","t":"c","x":85.5,"y":77.7},{"p":"d","id":"d2","t":"c","x":90.8,"y":75.5},{"p":"d","id":"d2","t":"c","x":96.1,"y":75.5},{"p":"d","id":"d2","t":"c","x":100,"y":75.5},
{"p":"d","id":"d3","t":"c","x":42.1,"y":96.6},{"p":"d","id":"d3","t":"c","x":43.9,"y":94.3},{"p":"d","id":"d3","t":"c","x":47.1,"y":94.3},{"p":"d","id":"d3","t":"c","x":51.6,"y":95.6},{"p":"d","id":"d3","t":"c","x":56.2,"y":95.9},{"p":"d","id":"d3","t":"c","x":63.9,"y":95.9},{"p":"d","id":"d3","t":"c","x":68,"y":95.6},{"p":"d","id":"d3","t":"c","x":72.5,"y":94.3},{"p":"d","id":"d3","t":"c","x":77.1,"y":92.3},{"p":"d","id":"d3","t":"c","x":79.8,"y":90.1},{"p":"d","id":"d3","t":"c","x":83.4,"y":88.8},{"p":"d","id":"d3","t":"c","x":88.9,"y":87.8},{"p":"d","id":"d3","t":"c","x":94.3,"y":87.8},{"p":"d","id":"d3","t":"c","x":100,"y":88.4},
{"p":"d","id":"d4","t":"c","x":42.1,"y":114.4},{"p":"d","id":"d4","t":"c","x":43.9,"y":111.2},{"p":"d","id":"d4","t":"c","x":46.2,"y":108.9},{"p":"d","id":"d4","t":"c","x":49.8,"y":108.9},{"p":"d","id":"d4","t":"c","x":53.9,"y":110.8},{"p":"d","id":"d4","t":"c","x":57.1,"y":109.5},{"p":"d","id":"d4","t":"c","x":60.7,"y":108.9},{"p":"d","id":"d4","t":"c","x":65.2,"y":108.6},{"p":"d","id":"d4","t":"c","x":69.8,"y":107.9},{"p":"d","id":"d4","t":"c","x":74.3,"y":104.7},{"p":"d","id":"d4","t":"c","x":78.9,"y":101.4},{"p":"d","id":"d4","t":"c","x":81.6,"y":99.2},{"p":"d","id":"d4","t":"c","x":83.9,"y":98.8},{"p":"d","id":"d4","t":"c","x":87.1,"y":99.2},{"p":"d","id":"d4","t":"c","x":90.8,"y":100.5},{"p":"d","id":"d4","t":"c","x":95.2,"y":101.4},{"p":"d","id":"d4","t":"c","x":100,"y":103.1},
{"p":"d","id":"d5","t":"z","x":42.1,"y":133.2},{"p":"d","id":"d5","t":"z","x":43.9,"y":130.6},{"p":"d","id":"d5","t":"z","x":45.3,"y":127.4},{"p":"d","id":"d5","t":"z","x":47.1,"y":125.1},{"p":"d","id":"d5","t":"z","x":53.9,"y":125.8},{"p":"d","id":"d5","t":"z","x":58,"y":125.1},{"p":"d","id":"d5","t":"z","x":63.4,"y":124.5},{"p":"d","id":"d5","t":"z","x":68.9,"y":124.2},{"p":"d","id":"d5","t":"z","x":72.5,"y":121.9},{"p":"d","id":"d5","t":"z","x":76.1,"y":119.3},{"p":"d","id":"d5","t":"z","x":79.8,"y":116},{"p":"d","id":"d5","t":"z","x":81.6,"y":115.1},{"p":"d","id":"d5","t":"z","x":83.9,"y":114.4},{"p":"d","id":"d5","t":"z","x":87.1,"y":116},{"p":"d","id":"d5","t":"z","x":92.6,"y":117.7},{"p":"d","id":"d5","t":"z","x":98,"y":119.3},{"p":"d","id":"d5","t":"z","x":100,"y":120},
{"p":"d","id":"d6","t":"c","x":42.1,"y":169.6},{"p":"d","id":"d6","t":"c","x":43.5,"y":166.4},{"p":"d","id":"d6","t":"c","x":44.4,"y":161.5},{"p":"d","id":"d6","t":"c","x":46.2,"y":155},{"p":"d","id":"d6","t":"c","x":47.5,"y":152.7},{"p":"d","id":"d6","t":"c","x":51.6,"y":152.4},{"p":"d","id":"d6","t":"c","x":56.2,"y":152.1},{"p":"d","id":"d6","t":"c","x":59.8,"y":150.8},{"p":"d","id":"d6","t":"c","x":64.3,"y":150.5},{"p":"d","id":"d6","t":"c","x":68.9,"y":149.2},{"p":"d","id":"d6","t":"c","x":71.6,"y":146.9},{"p":"d","id":"d6","t":"c","x":74.3,"y":143.6},{"p":"d","id":"d6","t":"c","x":78,"y":140.4},{"p":"d","id":"d6","t":"c","x":79.8,"y":137.1},{"p":"d","id":"d6","t":"c","x":81.6,"y":134.9},{"p":"d","id":"d6","t":"c","x":85.2,"y":135.5},{"p":"d","id":"d6","t":"c","x":90.8,"y":141.4},{"p":"d","id":"d6","t":"c","x":94.3,"y":142.7},{"p":"d","id":"d6","t":"c","x":100,"y":143.6},
{"p":"d","id":"d7","t":"c","x":42.1,"y":216.7},{"p":"d","id":"d7","t":"c","x":43.5,"y":213.4},{"p":"d","id":"d7","t":"c","x":44.8,"y":208.6},{"p":"d","id":"d7","t":"c","x":46.2,"y":203.8},{"p":"d","id":"d7","t":"c","x":48,"y":202.1},{"p":"d","id":"d7","t":"c","x":52.5,"y":201.4},{"p":"d","id":"d7","t":"c","x":56.2,"y":201.1},{"p":"d","id":"d7","t":"c","x":58,"y":200.5},{"p":"d","id":"d7","t":"c","x":61.6,"y":200.5},{"p":"d","id":"d7","t":"c","x":65.2,"y":197.9},{"p":"d","id":"d7","t":"c","x":69.8,"y":194.6},{"p":"d","id":"d7","t":"c","x":74.3,"y":189.7},{"p":"d","id":"d7","t":"c","x":77.9,"y":186.5},{"p":"d","id":"d7","t":"c","x":80.7,"y":181.9},{"p":"d","id":"d7","t":"c","x":85.2,"y":182.6},{"p":"d","id":"d7","t":"c","x":90.6,"y":183.6},{"p":"d","id":"d7","t":"c","x":96.1,"y":182.6},{"p":"d","id":"d7","t":"c","x":97.9,"y":180.3},{"p":"d","id":"d7","t":"c","x":98.9,"y":181.9},{"p":"d","id":"d7","t":"c","x":100,"y":181.6},
{"p":"d","id":"d8","t":"c","x":42.1,"y":283.2},{"p":"d","id":"d8","t":"c","x":43.5,"y":280},{"p":"d","id":"d8","t":"c","x":44.8,"y":275.1},{"p":"d","id":"d8","t":"c","x":46.2,"y":270.3},{"p":"d","id":"d8","t":"c","x":50.7,"y":269.6},{"p":"d","id":"d8","t":"c","x":55.3,"y":269.9},{"p":"d","id":"d8","t":"c","x":58,"y":270.9},{"p":"d","id":"d8","t":"c","x":61.6,"y":269.6},{"p":"d","id":"d8","t":"c","x":66.2,"y":267},{"p":"d","id":"d8","t":"c","x":70.7,"y":263.8},{"p":"d","id":"d8","t":"c","x":74.3,"y":260.5},{"p":"d","id":"d8","t":"c","x":78.9,"y":257.9},{"p":"d","id":"d8","t":"c","x":83.4,"y":255},{"p":"d","id":"d8","t":"c","x":87.9,"y":252.4},{"p":"d","id":"d8","t":"c","x":92.5,"y":249.2},{"p":"d","id":"d8","t":"c","x":100,"y":245.9},
{"p":"d","id":"d9","t":"c","x":42.1,"y":339.1},{"p":"d","id":"d9","t":"c","x":43.9,"y":332},{"p":"d","id":"d9","t":"c","x":45.3,"y":331},{"p":"d","id":"d9","t":"c","x":47.5,"y":328.7},{"p":"d","id":"d9","t":"c","x":50.7,"y":332},{"p":"d","id":"d9","t":"c","x":55.3,"y":338.4},{"p":"d","id":"d9","t":"c","x":60.7,"y":342.7},{"p":"d","id":"d9","t":"c","x":65.2,"y":345.9},{"p":"d","id":"d9","t":"c","x":71.6,"y":347.5},{"p":"d","id":"d9","t":"c","x":79.8,"y":346.6},{"p":"d","id":"d9","t":"c","x":88,"y":342.7},{"p":"d","id":"d9","t":"c","x":92.5,"y":341.7},{"p":"d","id":"d9","t":"c","x":97,"y":340},{"p":"d","id":"d9","t":"c","x":98.9,"y":336.2},{"p":"d","id":"d9","t":"c","x":100,"y":336.2},
{"p":"d","id":"d10","t":"c","x":118.1,"y":5},{"p":"d","id":"d10","t":"c","x":118.5,"y":21.9},{"p":"d","id":"d10","t":"c","x":119.7,"y":28.4},
{"p":"d","id":"d11","t":"c","x":117,"y":46.2},{"p":"d","id":"d11","t":"c","x":118.4,"y":46.2},{"p":"d","id":"d11","t":"c","x":118.8,"y":41.4},{"p":"d","id":"d11","t":"c","x":120,"y":38.8},
{"p":"d","id":"d12","t":"c","x":117,"y":81},{"p":"d","id":"d12","t":"c","x":120,"y":81},
{"p":"d","id":"d13","t":"c","x":117,"y":96.6},{"p":"d","id":"d13","t":"c","x":120,"y":97.2},
{"p":"d","id":"d14","t":"c","x":117,"y":114.4},{"p":"d","id":"d14","t":"c","x":118.8,"y":115.4},{"p":"d","id":"d14","t":"c","x":120,"y":116},
{"p":"d","id":"d15","t":"c","x":117,"y":133.9},{"p":"d","id":"d15","t":"c","x":118.8,"y":134.5},{"p":"d","id":"d15","t":"c","x":120,"y":136.2},
{"p":"d","id":"d16","t":"z","x":117,"y":157.3},{"p":"d","id":"d16","t":"z","x":120,"y":158.9},
{"p":"d","id":"d17","t":"c","x":117,"y":181.6},{"p":"d","id":"d17","t":"c","x":120,"y":182.6},
{"p":"d","id":"d18","t":"c","x":117,"y":208},{"p":"d","id":"d18","t":"c","x":120,"y":208.6},
{"p":"d","id":"d19","t":"c","x":117,"y":240.1},{"p":"d","id":"d19","t":"c","x":120,"y":240.1},
{"p":"d","id":"d20","t":"c","x":117,"y":280},{"p":"d","id":"d20","t":"c","x":120,"y":280},
{"p":"d","id":"d21","t":"c","x":117,"y":329.7},{"p":"d","id":"d21","t":"c","x":120,"y":329.7},

{"p":"e","id":"e1","t":"c","x":43.2,"y":5},{"p":"e","id":"e1","t":"c","x":42.6,"y":16.7},{"p":"e","id":"e1","t":"c","x":42,"y":26.4},{"p":"e","id":"e1","t":"c","x":43.2,"y":36.2},{"p":"e","id":"e1","t":"c","x":44.1,"y":47.5},{"p":"e","id":"e1","t":"c","x":44.7,"y":58.9},{"p":"e","id":"e1","t":"c","x":45.6,"y":68.6},{"p":"e","id":"e1","t":"c","x":46.4,"y":76.8},{"p":"e","id":"e1","t":"c","x":45,"y":81.6},{"p":"e","id":"e1","t":"c","x":43.2,"y":84.2},{"p":"e","id":"e1","t":"c","x":41.8,"y":86.5},{"p":"e","id":"e1","t":"c","x":40.5,"y":88.8},
{"p":"e","id":"e2","t":"c","x":45.3,"y":5},{"p":"e","id":"e2","t":"c","x":45.5,"y":29.7},{"p":"e","id":"e2","t":"c","x":46.6,"y":41},{"p":"e","id":"e2","t":"c","x":47.3,"y":50.8},{"p":"e","id":"e2","t":"c","x":47.9,"y":56.6},{"p":"e","id":"e2","t":"c","x":48.4,"y":49.2},{"p":"e","id":"e2","t":"c","x":48.4,"y":36.2},{"p":"e","id":"e2","t":"c","x":48,"y":28.1},{"p":"e","id":"e2","t":"c","x":48.2,"y":5},
{"p":"e","id":"e3","t":"c","x":50.5,"y":5},{"p":"e","id":"e3","t":"c","x":50.6,"y":26.4},{"p":"e","id":"e3","t":"c","x":50.8,"y":47.5},{"p":"e","id":"e3","t":"c","x":51.8,"y":50.8},{"p":"e","id":"e3","t":"c","x":52.6,"y":54},{"p":"e","id":"e3","t":"c","x":52.9,"y":62.1},{"p":"e","id":"e3","t":"c","x":53.7,"y":70.3},{"p":"e","id":"e3","t":"c","x":55.5,"y":74.5},{"p":"e","id":"e3","t":"c","x":58.2,"y":72.5},{"p":"e","id":"e3","t":"c","x":60,"y":70.9},{"p":"e","id":"e3","t":"c","x":63.2,"y":67},{"p":"e","id":"e3","t":"c","x":66.4,"y":58.9},{"p":"e","id":"e3","t":"c","x":69.2,"y":49.8},{"p":"e","id":"e3","t":"c","x":71.9,"y":45.3},{"p":"e","id":"e3","t":"c","x":74.2,"y":45.3},{"p":"e","id":"e3","t":"c","x":76.4,"y":48.5},{"p":"e","id":"e3","t":"c","x":80.1,"y":57.3},{"p":"e","id":"e3","t":"c","x":84.6,"y":66},{"p":"e","id":"e3","t":"c","x":89.2,"y":70.6},{"p":"e","id":"e3","t":"c","x":92.4,"y":72.5},{"p":"e","id":"e3","t":"c","x":94.7,"y":73.5},
{"p":"e","id":"e4","t":"c","x":94.7,"y":73.5},{"p":"e","id":"e4","t":"c","x":91,"y":76.8},{"p":"e","id":"e4","t":"c","x":87.4,"y":79},{"p":"e","id":"e4","t":"c","x":83.7,"y":82.3},{"p":"e","id":"e4","t":"c","x":80.1,"y":87.5},{"p":"e","id":"e4","t":"c","x":76.4,"y":91.4},{"p":"e","id":"e4","t":"c","x":72.8,"y":94},{"p":"e","id":"e4","t":"c","x":70.7,"y":94.6},{"p":"e","id":"e4","t":"c","x":67.3,"y":92.7},{"p":"e","id":"e4","t":"c","x":63.7,"y":88.1},{"p":"e","id":"e4","t":"c","x":60,"y":84.2},{"p":"e","id":"e4","t":"c","x":56.4,"y":81},{"p":"e","id":"e4","t":"c","x":53.2,"y":79.3},{"p":"e","id":"e4","t":"c","x":50,"y":81},{"p":"e","id":"e4","t":"c","x":48.2,"y":82.3},{"p":"e","id":"e4","t":"c","x":46.4,"y":84.9},{"p":"e","id":"e4","t":"c","x":45,"y":87.5},{"p":"e","id":"e4","t":"c","x":44.1,"y":90.7},{"p":"e","id":"e4","t":"c","x":43.5,"y":94.6},{"p":"e","id":"e4","t":"c","x":43.2,"y":104.4},{"p":"e","id":"e4","t":"c","x":42.9,"y":117.3},{"p":"e","id":"e4","t":"c","x":42.7,"y":130.3},{"p":"e","id":"e4","t":"c","x":42.6,"y":136.8},{"p":"e","id":"e4","t":"c","x":43.2,"y":146.6},{"p":"e","id":"e4","t":"c","x":44.4,"y":162.8},{"p":"e","id":"e4","t":"c","x":45.3,"y":179},{"p":"e","id":"e4","t":"c","x":45.9,"y":191.4},{"p":"e","id":"e4","t":"c","x":46.8,"y":175.8},{"p":"e","id":"e4","t":"c","x":48.7,"y":169.3},{"p":"e","id":"e4","t":"c","x":51.8,"y":164.4},{"p":"e","id":"e4","t":"c","x":55.5,"y":162.8},{"p":"e","id":"e4","t":"c","x":58.7,"y":163.4},{"p":"e","id":"e4","t":"c","x":61,"y":164.4},{"p":"e","id":"e4","t":"c","x":63.7,"y":170.9},{"p":"e","id":"e4","t":"c","x":65.5,"y":179},{"p":"e","id":"e4","t":"c","x":67.3,"y":185.5},{"p":"e","id":"e4","t":"c","x":70.1,"y":186.2},{"p":"e","id":"e4","t":"c","x":71.4,"y":180.6},{"p":"e","id":"e4","t":"c","x":72.1,"y":192.1},{"p":"e","id":"e4","t":"c","x":72.8,"y":190},{"p":"e","id":"e4","t":"c","x":73.3,"y":201.8},{"p":"e","id":"e4","t":"c","x":74.2,"y":199},{"p":"e","id":"e4","t":"c","x":75.1,"y":209.9},{"p":"e","id":"e4","t":"c","x":76,"y":208},{"p":"e","id":"e4","t":"c","x":77.4,"y":219.6},{"p":"e","id":"e4","t":"c","x":78.7,"y":222.9},{"p":"e","id":"e4","t":"c","x":77.8,"y":229.4},{"p":"e","id":"e4","t":"c","x":76.4,"y":235.8},{"p":"e","id":"e4","t":"c","x":75.5,"y":238},{"p":"e","id":"e4","t":"c","x":74.6,"y":244},{"p":"e","id":"e4","t":"c","x":73.7,"y":253.7},{"p":"e","id":"e4","t":"c","x":72.3,"y":261.8},{"p":"e","id":"e4","t":"c","x":71.4,"y":269.9},{"p":"e","id":"e4","t":"c","x":70.1,"y":271.9},{"p":"e","id":"e4","t":"c","x":67.3,"y":269.9},{"p":"e","id":"e4","t":"c","x":64.6,"y":272.5},{"p":"e","id":"e4","t":"c","x":61.9,"y":273.8},{"p":"e","id":"e4","t":"c","x":60,"y":279.7},{"p":"e","id":"e4","t":"c","x":58.2,"y":281},{"p":"e","id":"e4","t":"c","x":56.4,"y":273.8},{"p":"e","id":"e4","t":"c","x":53.7,"y":267.3},{"p":"e","id":"e4","t":"c","x":50.9,"y":263.4},{"p":"e","id":"e4","t":"c","x":48.2,"y":258.6},{"p":"e","id":"e4","t":"c","x":46.8,"y":247.2},{"p":"e","id":"e4","t":"c","x":45.9,"y":235.8},{"p":"e","id":"e4","t":"c","x":45,"y":234.2},{"p":"e","id":"e4","t":"c","x":44.1,"y":235.8},{"p":"e","id":"e4","t":"c","x":43.6,"y":244},{"p":"e","id":"e4","t":"c","x":43,"y":257},{"p":"e","id":"e4","t":"c","x":42.6,"y":270},{"p":"e","id":"e4","t":"c","x":42,"y":279.7},
{"p":"e","id":"e5","t":"c","x":40.5,"y":84.9},{"p":"e","id":"e5","t":"c","x":42.3,"y":81.6},{"p":"e","id":"e5","t":"c","x":44.1,"y":79},{"p":"e","id":"e5","t":"c","x":45.6,"y":77.7},{"p":"e","id":"e5","t":"c","x":47.3,"y":79},
{"p":"e","id":"e7","t":"z","x":46.8,"y":97.9},{"p":"e","id":"e7","t":"z","x":49.1,"y":95.3},{"p":"e","id":"e7","t":"z","x":51.4,"y":97.2},{"p":"e","id":"e7","t":"z","x":51.8,"y":104.4},{"p":"e","id":"e7","t":"z","x":51.1,"y":117.3},{"p":"e","id":"e7","t":"z","x":50.5,"y":130.3},{"p":"e","id":"e7","t":"z","x":49.6,"y":136.8},{"p":"e","id":"e7","t":"z","x":48.2,"y":136.8},{"p":"e","id":"e7","t":"z","x":47.3,"y":130.3},{"p":"e","id":"e7","t":"z","x":46.8,"y":117.3},{"p":"e","id":"e7","t":"z","x":46.6,"y":104.4},{"p":"e","id":"e7","t":"z","x":46.8,"y":97.9},
{"p":"e","id":"e8","t":"n","x":47.7,"y":101.1},{"p":"e","id":"e8","t":"n","x":50.5,"y":101.1},{"p":"e","id":"e8","t":"n","x":50.9,"y":106},{"p":"e","id":"e8","t":"n","x":50,"y":112.5},{"p":"e","id":"e8","t":"n","x":48.7,"y":113.4},{"p":"e","id":"e8","t":"n","x":47.9,"y":107.6},{"p":"e","id":"e8","t":"n","x":47.7,"y":101.1},
{"p":"e","id":"e9","t":"z","x":56.4,"y":102.7},{"p":"e","id":"e9","t":"z","x":57.8,"y":98.5},{"p":"e","id":"e9","t":"z","x":59,"y":101.1},{"p":"e","id":"e9","t":"z","x":58.7,"y":107},{"p":"e","id":"e9","t":"z","x":57.5,"y":109.2},{"p":"e","id":"e9","t":"z","x":56.6,"y":107},{"p":"e","id":"e9","t":"z","x":56.4,"y":102.7},
{"p":"e","id":"e10","t":"c","x":45.6,"y":93},{"p":"e","id":"e10","t":"c","x":49.1,"y":91.4},{"p":"e","id":"e10","t":"c","x":51.8,"y":92},{"p":"e","id":"e10","t":"c","x":54.8,"y":94.6},{"p":"e","id":"e10","t":"c","x":58.2,"y":91.4},{"p":"e","id":"e10","t":"c","x":60,"y":93},{"p":"e","id":"e10","t":"c","x":61.9,"y":101.1},{"p":"e","id":"e10","t":"c","x":61.4,"y":107.6},{"p":"e","id":"e10","t":"c","x":60,"y":117.3},{"p":"e","id":"e10","t":"c","x":58.2,"y":127.1},{"p":"e","id":"e10","t":"c","x":55.5,"y":133.6},{"p":"e","id":"e10","t":"c","x":52.8,"y":140.1},{"p":"e","id":"e10","t":"c","x":50,"y":146.6},{"p":"e","id":"e10","t":"c","x":48.5,"y":148.2},{"p":"e","id":"e10","t":"c","x":46.8,"y":146.6},{"p":"e","id":"e10","t":"c","x":45.9,"y":138.4},{"p":"e","id":"e10","t":"c","x":45.5,"y":123.8},{"p":"e","id":"e10","t":"c","x":45.3,"y":107.6},{"p":"e","id":"e10","t":"c","x":45.5,"y":97.9},{"p":"e","id":"e10","t":"c","x":45.6,"y":93},
{"p":"e","id":"e11","t":"c","x":100,"y":97.9},{"p":"e","id":"e11","t":"c","x":94.7,"y":98.8},{"p":"e","id":"e11","t":"c","x":89.2,"y":97.9},{"p":"e","id":"e11","t":"c","x":85.6,"y":97.2},{"p":"e","id":"e11","t":"c","x":84.5,"y":97.2},{"p":"e","id":"e11","t":"c","x":81,"y":99.5},{"p":"e","id":"e11","t":"c","x":80.1,"y":106},{"p":"e","id":"e11","t":"c","x":80.5,"y":117.3},{"p":"e","id":"e11","t":"c","x":81.9,"y":128.7},{"p":"e","id":"e11","t":"c","x":84.2,"y":125.5},{"p":"e","id":"e11","t":"c","x":87.4,"y":123.8},{"p":"e","id":"e11","t":"c","x":89.7,"y":127.1},{"p":"e","id":"e11","t":"c","x":91.9,"y":135.2},{"p":"e","id":"e11","t":"c","x":94.7,"y":136.8},{"p":"e","id":"e11","t":"c","x":96.5,"y":135.8},{"p":"e","id":"e11","t":"c","x":98.8,"y":136.8},{"p":"e","id":"e11","t":"c","x":99.7,"y":133.6},{"p":"e","id":"e11","t":"c","x":100,"y":131.9},
{"p":"e","id":"e12","t":"c","x":65.5,"y":75.1},{"p":"e","id":"e12","t":"c","x":68.2,"y":67},{"p":"e","id":"e12","t":"c","x":71,"y":60.5},{"p":"e","id":"e12","t":"c","x":73.7,"y":58.9},{"p":"e","id":"e12","t":"c","x":77.4,"y":62.1},{"p":"e","id":"e12","t":"c","x":81,"y":74.5},{"p":"e","id":"e12","t":"c","x":77.4,"y":81.6},{"p":"e","id":"e12","t":"c","x":73.7,"y":85.5},{"p":"e","id":"e12","t":"c","x":71,"y":84.2},{"p":"e","id":"e12","t":"c","x":68.2,"y":81},{"p":"e","id":"e12","t":"c","x":65.5,"y":75.1},
{"p":"e","id":"e13","t":"c","x":69.2,"y":73.5},{"p":"e","id":"e13","t":"c","x":71.9,"y":68.6},{"p":"e","id":"e13","t":"c","x":74.6,"y":67},{"p":"e","id":"e13","t":"c","x":77.4,"y":69.3},{"p":"e","id":"e13","t":"c","x":78.7,"y":73.5},{"p":"e","id":"e13","t":"c","x":76.4,"y":76.8},{"p":"e","id":"e13","t":"c","x":73.7,"y":77.7},{"p":"e","id":"e13","t":"c","x":71,"y":76.8},{"p":"e","id":"e13","t":"c","x":69.2,"y":73.5},
{"p":"e","id":"e14","t":"c","x":95.4,"y":5},{"p":"e","id":"e14","t":"c","x":95.6,"y":29.7},{"p":"e","id":"e14","t":"c","x":94.2,"y":39.4},{"p":"e","id":"e14","t":"c","x":92.4,"y":46.9},{"p":"e","id":"e14","t":"c","x":90.8,"y":52.4},{"p":"e","id":"e14","t":"c","x":91.9,"y":54.7},{"p":"e","id":"e14","t":"c","x":94.7,"y":58.2},{"p":"e","id":"e14","t":"c","x":97.9,"y":61.5},{"p":"e","id":"e14","t":"c","x":100,"y":62.5},
{"p":"e","id":"e15","t":"z","x":96.9,"y":5},{"p":"e","id":"e15","t":"z","x":97.4,"y":31.3},{"p":"e","id":"e15","t":"z","x":96.5,"y":54},{"p":"e","id":"e15","t":"z","x":97.9,"y":57.5},{"p":"e","id":"e15","t":"z","x":100,"y":58.9},
{"p":"e","id":"e16","t":"n","x":98.5,"y":5},{"p":"e","id":"e16","t":"n","x":98.6,"y":31},{"p":"e","id":"e16","t":"n","x":98.8,"y":50},{"p":"e","id":"e16","t":"n","x":99.4,"y":54},{"p":"e","id":"e16","t":"n","x":100,"y":55},
{"p":"e","id":"e17","t":"h","x":104.2,"y":5},{"p":"e","id":"e17","t":"h","x":104.2,"y":24.8},
{"p":"e","id":"e18","t":"c","x":109.1,"y":5},{"p":"e","id":"e18","t":"c","x":109.1,"y":24.8},
{"p":"e","id":"e19","t":"n","x":109.7,"y":5},{"p":"e","id":"e19","t":"n","x":109.7,"y":23.2},
{"p":"e","id":"e20","t":"n","x":117.5,"y":8},{"p":"e","id":"e20","t":"n","x":119,"y":10},{"p":"e","id":"e20","t":"n","x":120,"y":7},
{"p":"e","id":"e21","t":"z","x":117.5,"y":15},{"p":"e","id":"e21","t":"z","x":119,"y":13},{"p":"e","id":"e21","t":"z","x":120,"y":17},
{"p":"e","id":"e22","t":"c","x":117.4,"y":22},{"p":"e","id":"e22","t":"c","x":119,"y":25},{"p":"e","id":"e22","t":"c","x":120,"y":27},
{"p":"e","id":"e23","t":"c","x":117,"y":47.5},{"p":"e","id":"e23","t":"c","x":117.6,"y":60},{"p":"e","id":"e23","t":"c","x":118.8,"y":73},{"p":"e","id":"e23","t":"c","x":118.4,"y":77},
{"p":"e","id":"e24","t":"c","x":116.9,"y":72},{"p":"e","id":"e24","t":"c","x":117.1,"y":75.5},
{"p":"e","id":"e25","t":"c","x":117,"y":98},{"p":"e","id":"e25","t":"c","x":118.8,"y":97},{"p":"e","id":"e25","t":"c","x":120,"y":98},
{"p":"e","id":"e26","t":"z","x":117.4,"y":135},{"p":"e","id":"e26","t":"z","x":118.4,"y":120.6},{"p":"e","id":"e26","t":"z","x":119.3,"y":114},{"p":"e","id":"e26","t":"z","x":120,"y":110.8},
{"p":"e","id":"e27","t":"c","x":117,"y":159.5},{"p":"e","id":"e27","t":"c","x":117.9,"y":164.4},{"p":"e","id":"e27","t":"c","x":119.7,"y":167.7},
{"p":"e","id":"e29","t":"c","x":117.9,"y":182.3},{"p":"e","id":"e29","t":"c","x":118.8,"y":179},{"p":"e","id":"e29","t":"c","x":119.7,"y":180.6},{"p":"e","id":"e29","t":"c","x":120,"y":192},
{"p":"e","id":"e30","t":"c","x":117.4,"y":214.7},{"p":"e","id":"e30","t":"c","x":118.4,"y":218},{"p":"e","id":"e30","t":"c","x":119.3,"y":221.2},
{"p":"e","id":"e31","t":"z","x":117.9,"y":240.7},{"p":"e","id":"e31","t":"z","x":118.8,"y":253.7},{"p":"e","id":"e31","t":"z","x":120,"y":276.4},
{"p":"e","id":"e32","t":"n","x":115.6,"y":276.4},{"p":"e","id":"e32","t":"n","x":117,"y":302.4},{"p":"e","id":"e32","t":"n","x":118.4,"y":325.1},{"p":"e","id":"e32","t":"n","x":119.1,"y":344.6},
{"p":"e","id":"e33","t":"n","x":116.5,"y":295.9},{"p":"e","id":"e33","t":"n","x":117.9,"y":318.6},{"p":"e","id":"e33","t":"n","x":119.3,"y":344.6},
{"p":"e","id":"e34","t":"n","x":117.4,"y":331.6},{"p":"e","id":"e34","t":"n","x":118.8,"y":347.9},
{"p":"e","id":"e36","t":"c","x":41.8,"y":346.2},{"p":"e","id":"e36","t":"c","x":43.6,"y":338.1},{"p":"e","id":"e36","t":"c","x":45.9,"y":336.5},{"p":"e","id":"e36","t":"c","x":48.2,"y":338.1},{"p":"e","id":"e36","t":"c","x":50.9,"y":344.6},{"p":"e","id":"e36","t":"c","x":53.2,"y":351},
{"p":"e","id":"e37","t":"c","x":92.4,"y":351},{"p":"e","id":"e37","t":"c","x":94.7,"y":338.1},{"p":"e","id":"e37","t":"c","x":96.5,"y":328.4},{"p":"e","id":"e37","t":"c","x":97.9,"y":318.6},{"p":"e","id":"e37","t":"c","x":99.2,"y":307.3},{"p":"e","id":"e37","t":"c","x":100,"y":304},
{"p":"e","id":"e39","t":"c","x":42.6,"y":140},{"p":"e","id":"e39","t":"c","x":42.2,"y":149.8},{"p":"e","id":"e39","t":"c","x":41.8,"y":158},

{"p":"f","id":"f1","t":"c","x":42.9,"y":5},{"p":"f","id":"f1","t":"c","x":43.6,"y":18.6},{"p":"f","id":"f1","t":"c","x":44.4,"y":34.9},{"p":"f","id":"f1","t":"c","x":45,"y":47.9},{"p":"f","id":"f1","t":"c","x":44.7,"y":54.4},{"p":"f","id":"f1","t":"c","x":43.6,"y":56.3},{"p":"f","id":"f1","t":"c","x":42.6,"y":53.7},
{"p":"f","id":"f2","t":"c","x":40.3,"y":68},{"p":"f","id":"f2","t":"c","x":42.9,"y":74.8},{"p":"f","id":"f2","t":"c","x":40.3,"y":81.9},
{"p":"f","id":"f3","t":"c","x":52.3,"y":74.8},{"p":"f","id":"f3","t":"c","x":56.4,"y":67.3},{"p":"f","id":"f3","t":"c","x":60,"y":60.8},{"p":"f","id":"f3","t":"c","x":64.6,"y":66.7},{"p":"f","id":"f3","t":"c","x":69.6,"y":74.8},{"p":"f","id":"f3","t":"c","x":64.6,"y":77.7},{"p":"f","id":"f3","t":"c","x":60,"y":80.3},{"p":"f","id":"f3","t":"c","x":55.5,"y":78.7},{"p":"f","id":"f3","t":"c","x":52.3,"y":74.8},
{"p":"f","id":"f4","t":"c","x":47.7,"y":74.8},{"p":"f","id":"f4","t":"c","x":52.8,"y":59.2},{"p":"f","id":"f4","t":"c","x":56.4,"y":51.8},{"p":"f","id":"f4","t":"c","x":59,"y":50.5},{"p":"f","id":"f4","t":"c","x":61.9,"y":52.7},{"p":"f","id":"f4","t":"c","x":67.3,"y":62.5},{"p":"f","id":"f4","t":"c","x":73.7,"y":74.8},{"p":"f","id":"f4","t":"c","x":69.2,"y":81.9},{"p":"f","id":"f4","t":"c","x":63.7,"y":86.2},{"p":"f","id":"f4","t":"c","x":59.1,"y":88.4},{"p":"f","id":"f4","t":"c","x":53.7,"y":86.8},{"p":"f","id":"f4","t":"c","x":49.1,"y":80.3},{"p":"f","id":"f4","t":"c","x":47.7,"y":74.8},
{"p":"f","id":"f5","t":"c","x":45,"y":74.8},{"p":"f","id":"f5","t":"c","x":49.1,"y":60.8},{"p":"f","id":"f5","t":"c","x":51.8,"y":49.5},{"p":"f","id":"f5","t":"c","x":54.1,"y":41.4},{"p":"f","id":"f5","t":"c","x":56.9,"y":36.5},{"p":"f","id":"f5","t":"c","x":61,"y":39.7},{"p":"f","id":"f5","t":"c","x":65.5,"y":47.9},{"p":"f","id":"f5","t":"c","x":71,"y":60.8},{"p":"f","id":"f5","t":"c","x":76.9,"y":74.8},{"p":"f","id":"f5","t":"c","x":72.8,"y":83.6},{"p":"f","id":"f5","t":"c","x":67.3,"y":90.1},{"p":"f","id":"f5","t":"c","x":61.9,"y":92.7},{"p":"f","id":"f5","t":"c","x":55.8,"y":94},{"p":"f","id":"f5","t":"c","x":50.9,"y":93.3},{"p":"f","id":"f5","t":"c","x":47.3,"y":85.2},{"p":"f","id":"f5","t":"c","x":45,"y":74.8},
{"p":"f","id":"f6","t":"c","x":52.3,"y":5},{"p":"f","id":"f6","t":"c","x":54.6,"y":12.1},{"p":"f","id":"f6","t":"c","x":58.2,"y":20.3},{"p":"f","id":"f6","t":"c","x":61.9,"y":26.8},{"p":"f","id":"f6","t":"c","x":65.5,"y":33.2},{"p":"f","id":"f6","t":"c","x":70.1,"y":43},{"p":"f","id":"f6","t":"c","x":73.7,"y":52.7},{"p":"f","id":"f6","t":"c","x":76.4,"y":62.5},{"p":"f","id":"f6","t":"c","x":78.3,"y":70.6},{"p":"f","id":"f6","t":"c","x":79,"y":75.5},{"p":"f","id":"f6","t":"c","x":76.4,"y":86.8},{"p":"f","id":"f6","t":"c","x":72.8,"y":93.3},{"p":"f","id":"f6","t":"c","x":67.3,"y":98.2},{"p":"f","id":"f6","t":"c","x":61.9,"y":99.8},{"p":"f","id":"f6","t":"c","x":56.4,"y":99.2},{"p":"f","id":"f6","t":"c","x":52.8,"y":99.2},{"p":"f","id":"f6","t":"c","x":49.1,"y":98.2},{"p":"f","id":"f6","t":"c","x":46.4,"y":94.9},{"p":"f","id":"f6","t":"c","x":44.1,"y":90.1},{"p":"f","id":"f6","t":"c","x":42.9,"y":86.2},{"p":"f","id":"f6","t":"c","x":41.8,"y":83.9},{"p":"f","id":"f6","t":"c","x":40.3,"y":83.3},
{"p":"f","id":"f7","t":"c","x":43.6,"y":94.9},{"p":"f","id":"f7","t":"c","x":46.4,"y":99.8},{"p":"f","id":"f7","t":"c","x":47.7,"y":103.1},{"p":"f","id":"f7","t":"c","x":48,"y":109.5},{"p":"f","id":"f7","t":"c","x":47.3,"y":116},{"p":"f","id":"f7","t":"c","x":46.8,"y":120.9},{"p":"f","id":"f7","t":"c","x":45.9,"y":120.9},{"p":"f","id":"f7","t":"c","x":45,"y":114.4},{"p":"f","id":"f7","t":"c","x":44.1,"y":107.9},{"p":"f","id":"f7","t":"c","x":43.6,"y":99.8},{"p":"f","id":"f7","t":"c","x":43.6,"y":94.9},
{"p":"f","id":"f8","t":"c","x":42.9,"y":150.1},{"p":"f","id":"f8","t":"c","x":43.6,"y":146.9},{"p":"f","id":"f8","t":"c","x":45,"y":153.4},{"p":"f","id":"f8","t":"c","x":45.9,"y":156.6},{"p":"f","id":"f8","t":"c","x":46.4,"y":164.7},{"p":"f","id":"f8","t":"c","x":47.3,"y":166.4},{"p":"f","id":"f8","t":"c","x":48.7,"y":155},{"p":"f","id":"f8","t":"c","x":50,"y":145.3},{"p":"f","id":"f8","t":"c","x":51.8,"y":142},{"p":"f","id":"f8","t":"c","x":55.5,"y":140.4},{"p":"f","id":"f8","t":"c","x":57.8,"y":135.5},{"p":"f","id":"f8","t":"c","x":58.7,"y":125.8},{"p":"f","id":"f8","t":"c","x":59.6,"y":122.5},{"p":"f","id":"f8","t":"c","x":61,"y":119.3},{"p":"f","id":"f8","t":"c","x":63.7,"y":122.5},{"p":"f","id":"f8","t":"c","x":65.1,"y":135.5},{"p":"f","id":"f8","t":"c","x":66.4,"y":148.5},{"p":"f","id":"f8","t":"c","x":68.2,"y":171.2},{"p":"f","id":"f8","t":"c","x":70.1,"y":187.5},{"p":"f","id":"f8","t":"c","x":71.9,"y":195.6},{"p":"f","id":"f8","t":"c","x":73.7,"y":202.1},{"p":"f","id":"f8","t":"c","x":76.4,"y":205.3},{"p":"f","id":"f8","t":"c","x":78.7,"y":210.2},{"p":"f","id":"f8","t":"c","x":80.1,"y":223.2},{"p":"f","id":"f8","t":"c","x":79.6,"y":242.7},{"p":"f","id":"f8","t":"c","x":79.2,"y":262.1},{"p":"f","id":"f8","t":"c","x":77.4,"y":275.1},{"p":"f","id":"f8","t":"c","x":74.6,"y":281.6},{"p":"f","id":"f8","t":"c","x":71,"y":286.5},{"p":"f","id":"f8","t":"c","x":67.3,"y":284.9},{"p":"f","id":"f8","t":"c","x":62.8,"y":283.2},{"p":"f","id":"f8","t":"c","x":58.2,"y":283.2},{"p":"f","id":"f8","t":"c","x":53.7,"y":284.2},{"p":"f","id":"f8","t":"c","x":50,"y":286.5},{"p":"f","id":"f8","t":"c","x":48.2,"y":286.5},{"p":"f","id":"f8","t":"c","x":46.4,"y":284.9},{"p":"f","id":"f8","t":"c","x":45.5,"y":289.7},{"p":"f","id":"f8","t":"c","x":43.6,"y":288.1},{"p":"f","id":"f8","t":"c","x":43.2,"y":294.6},{"p":"f","id":"f8","t":"c","x":42.9,"y":299.5},
{"p":"f","id":"f9","t":"c","x":49.6,"y":169.6},{"p":"f","id":"f9","t":"c","x":50.9,"y":163.1},{"p":"f","id":"f9","t":"c","x":54.6,"y":160.8},{"p":"f","id":"f9","t":"c","x":55.9,"y":160.8},{"p":"f","id":"f9","t":"c","x":58.2,"y":160.8},{"p":"f","id":"f9","t":"c","x":61,"y":163.1},{"p":"f","id":"f9","t":"c","x":61.9,"y":169.6},{"p":"f","id":"f9","t":"c","x":61.9,"y":181},{"p":"f","id":"f9","t":"c","x":61,"y":194},{"p":"f","id":"f9","t":"c","x":59.1,"y":203.8},{"p":"f","id":"f9","t":"c","x":55.5,"y":208.6},{"p":"f","id":"f9","t":"c","x":53.2,"y":210.2},{"p":"f","id":"f9","t":"c","x":51.8,"y":213.4},{"p":"f","id":"f9","t":"c","x":50.9,"y":219.9},{"p":"f","id":"f9","t":"c","x":50,"y":229.7},{"p":"f","id":"f9","t":"c","x":49.8,"y":232.9},{"p":"f","id":"f9","t":"c","x":48.7,"y":229.7},{"p":"f","id":"f9","t":"c","x":48.2,"y":210.2},{"p":"f","id":"f9","t":"c","x":48.4,"y":190.7},{"p":"f","id":"f9","t":"c","x":48.7,"y":177.7},{"p":"f","id":"f9","t":"c","x":49.6,"y":169.6},
{"p":"f","id":"f10","t":"c","x":42.7,"y":169.6},{"p":"f","id":"f10","t":"c","x":43.5,"y":177.7},{"p":"f","id":"f10","t":"c","x":43.5,"y":210.2},{"p":"f","id":"f10","t":"c","x":43.2,"y":229.7},{"p":"f","id":"f10","t":"c","x":42.9,"y":239.4},{"p":"f","id":"f10","t":"c","x":42.6,"y":229.7},{"p":"f","id":"f10","t":"c","x":42.3,"y":203.8},{"p":"f","id":"f10","t":"c","x":42.4,"y":177.7},{"p":"f","id":"f10","t":"c","x":42.7,"y":169.6},
{"p":"f","id":"f12","t":"c","x":89.7,"y":5},{"p":"f","id":"f12","t":"c","x":89.2,"y":18.6},{"p":"f","id":"f12","t":"c","x":87.4,"y":30},{"p":"f","id":"f12","t":"c","x":84.6,"y":36.5},{"p":"f","id":"f12","t":"c","x":81,"y":37.8},{"p":"f","id":"f12","t":"c","x":79.6,"y":47.9},{"p":"f","id":"f12","t":"c","x":80.1,"y":57.6},{"p":"f","id":"f12","t":"c","x":81,"y":69},{"p":"f","id":"f12","t":"c","x":80.1,"y":81.6},{"p":"f","id":"f12","t":"c","x":77.4,"y":91.4},{"p":"f","id":"f12","t":"c","x":74.6,"y":101.1},{"p":"f","id":"f12","t":"c","x":72.8,"y":110.8},{"p":"f","id":"f12","t":"c","x":72.3,"y":123.8},{"p":"f","id":"f12","t":"c","x":72.8,"y":136.8},{"p":"f","id":"f12","t":"c","x":74.6,"y":146.6},{"p":"f","id":"f12","t":"c","x":78.3,"y":151.4},{"p":"f","id":"f12","t":"c","x":81.9,"y":153.1},{"p":"f","id":"f12","t":"c","x":85.6,"y":156.3},{"p":"f","id":"f12","t":"c","x":89.2,"y":166},{"p":"f","id":"f12","t":"c","x":92.8,"y":177.4},{"p":"f","id":"f12","t":"c","x":96.5,"y":187.1},{"p":"f","id":"f12","t":"c","x":97.9,"y":185.8},{"p":"f","id":"f12","t":"c","x":100,"y":188.8},
{"p":"f","id":"f13","t":"z","x":96.9,"y":5},{"p":"f","id":"f13","t":"z","x":96,"y":15.4},{"p":"f","id":"f13","t":"z","x":93.8,"y":31.6},{"p":"f","id":"f13","t":"z","x":89.2,"y":43},{"p":"f","id":"f13","t":"z","x":87.4,"y":47.9},{"p":"f","id":"f13","t":"z","x":84.5,"y":54.4},{"p":"f","id":"f13","t":"z","x":84.5,"y":62.5},{"p":"f","id":"f13","t":"z","x":84.6,"y":73.8},{"p":"f","id":"f13","t":"z","x":81.9,"y":81.9},{"p":"f","id":"f13","t":"z","x":79.2,"y":90.1},{"p":"f","id":"f13","t":"z","x":76.4,"y":98.2},{"p":"f","id":"f13","t":"z","x":75.1,"y":109.5},{"p":"f","id":"f13","t":"z","x":75.1,"y":122.5},{"p":"f","id":"f13","t":"z","x":75.5,"y":133.9},{"p":"f","id":"f13","t":"z","x":78.3,"y":135.5},{"p":"f","id":"f13","t":"z","x":83.7,"y":138.8},{"p":"f","id":"f13","t":"z","x":89.2,"y":148.5},{"p":"f","id":"f13","t":"z","x":93.8,"y":156.6},{"p":"f","id":"f13","t":"z","x":97.4,"y":161.5},{"p":"f","id":"f13","t":"z","x":100,"y":163.1},
{"p":"f","id":"f14","t":"n","x":99.2,"y":5},{"p":"f","id":"f14","t":"n","x":99,"y":28.4},{"p":"f","id":"f14","t":"n","x":98.1,"y":44.6},{"p":"f","id":"f14","t":"n","x":96,"y":57.6},{"p":"f","id":"f14","t":"n","x":94.2,"y":68},{"p":"f","id":"f14","t":"n","x":93.3,"y":75.5},{"p":"f","id":"f14","t":"n","x":91.9,"y":78},{"p":"f","id":"f14","t":"n","x":89.7,"y":78},{"p":"f","id":"f14","t":"n","x":87.4,"y":79.7},{"p":"f","id":"f14","t":"n","x":84.6,"y":83.6},{"p":"f","id":"f14","t":"n","x":81.9,"y":88.4},{"p":"f","id":"f14","t":"n","x":79.6,"y":94.9},{"p":"f","id":"f14","t":"n","x":78.1,"y":103.1},{"p":"f","id":"f14","t":"n","x":78.1,"y":112.8},{"p":"f","id":"f14","t":"n","x":79.6,"y":119.3},{"p":"f","id":"f14","t":"n","x":82.4,"y":123.2},{"p":"f","id":"f14","t":"n","x":84.6,"y":125.1},{"p":"f","id":"f14","t":"n","x":86.7,"y":125.8},{"p":"f","id":"f14","t":"n","x":89.7,"y":129},{"p":"f","id":"f14","t":"n","x":92.4,"y":137.1},{"p":"f","id":"f14","t":"n","x":95.1,"y":145.3},{"p":"f","id":"f14","t":"n","x":97.9,"y":150.1},{"p":"f","id":"f14","t":"n","x":100,"y":151.8},
{"p":"f","id":"f15","t":"n","x":100,"y":80.3},{"p":"f","id":"f15","t":"n","x":96.5,"y":82.9},{"p":"f","id":"f15","t":"n","x":92.8,"y":86.2},{"p":"f","id":"f15","t":"n","x":89.7,"y":88.4},{"p":"f","id":"f15","t":"n","x":87.6,"y":90.7},{"p":"f","id":"f15","t":"n","x":85.6,"y":92.7},{"p":"f","id":"f15","t":"n","x":83.3,"y":95.9},{"p":"f","id":"f15","t":"n","x":81.5,"y":100.5},{"p":"f","id":"f15","t":"n","x":80.8,"y":106.3},{"p":"f","id":"f15","t":"n","x":81.5,"y":112.8},{"p":"f","id":"f15","t":"n","x":83.7,"y":116.7},{"p":"f","id":"f15","t":"n","x":87.4,"y":118.6},{"p":"f","id":"f15","t":"n","x":91,"y":121.6},{"p":"f","id":"f15","t":"n","x":94.7,"y":126.4},{"p":"f","id":"f15","t":"n","x":97.4,"y":129.7},{"p":"f","id":"f15","t":"n","x":100,"y":130.6},
{"p":"f","id":"f16","t":"n","x":82.6,"y":103.7},{"p":"f","id":"f16","t":"n","x":84.6,"y":99.8},{"p":"f","id":"f16","t":"n","x":86.7,"y":102.4},{"p":"f","id":"f16","t":"n","x":85.8,"y":106.6},{"p":"f","id":"f16","t":"n","x":83.7,"y":106.9},{"p":"f","id":"f16","t":"n","x":82.6,"y":103.7},
{"p":"f","id":"f17","t":"n","x":94.2,"y":103.7},{"p":"f","id":"f17","t":"n","x":96.5,"y":99.2},{"p":"f","id":"f17","t":"n","x":98.8,"y":100.5},{"p":"f","id":"f17","t":"n","x":97.9,"y":106.3},{"p":"f","id":"f17","t":"n","x":96,"y":107.9},{"p":"f","id":"f17","t":"n","x":94.2,"y":103.7},
{"p":"f","id":"f18","t":"h","x":104.6,"y":5},{"p":"f","id":"f18","t":"h","x":104.6,"y":25},
{"p":"f","id":"f19","t":"c","x":107,"y":23.5},{"p":"f","id":"f19","t":"c","x":107.6,"y":18.6},{"p":"f","id":"f19","t":"c","x":108.2,"y":23.5},
{"p":"f","id":"f20","t":"z","x":109.4,"y":5},{"p":"f","id":"f20","t":"z","x":109.7,"y":25.1},
{"p":"f","id":"f21","t":"n","x":117,"y":12.1},{"p":"f","id":"f21","t":"n","x":118.4,"y":15.4},{"p":"f","id":"f21","t":"n","x":120,"y":11.5},
{"p":"f","id":"f22","t":"n","x":117.4,"y":20.3},{"p":"f","id":"f22","t":"n","x":119.1,"y":18.6},{"p":"f","id":"f22","t":"n","x":120,"y":21.2},
{"p":"f","id":"f23","t":"z","x":117,"y":31.6},{"p":"f","id":"f23","t":"z","x":118.5,"y":30},{"p":"f","id":"f23","t":"z","x":120,"y":28.4},
{"p":"f","id":"f24","t":"c","x":117.3,"y":39.7},{"p":"f","id":"f24","t":"c","x":118.5,"y":38.1},{"p":"f","id":"f24","t":"c","x":120,"y":34.9},
{"p":"f","id":"f25","t":"c","x":117,"y":65.7},{"p":"f","id":"f25","t":"c","x":119.7,"y":75.5},{"p":"f","id":"f25","t":"c","x":117,"y":81.9},
{"p":"f","id":"f26","t":"c","x":117.9,"y":59.2},{"p":"f","id":"f26","t":"c","x":120,"y":62.5},
{"p":"f","id":"f27","t":"c","x":117.4,"y":151.8},{"p":"f","id":"f27","t":"c","x":119.3,"y":146.9},{"p":"f","id":"f27","t":"c","x":120,"y":142},
{"p":"f","id":"f28","t":"c","x":117,"y":163.1},{"p":"f","id":"f28","t":"c","x":117.9,"y":169.6},{"p":"f","id":"f28","t":"c","x":118.8,"y":172.9},
{"p":"f","id":"f29","t":"c","x":117.4,"y":184.2},{"p":"f","id":"f29","t":"c","x":119.3,"y":177.7},{"p":"f","id":"f29","t":"c","x":120,"y":174.5},
{"p":"f","id":"f30","t":"z","x":118.4,"y":239.4},{"p":"f","id":"f30","t":"z","x":119.3,"y":252.4},{"p":"f","id":"f30","t":"z","x":120,"y":265.4},
{"p":"f","id":"f31","t":"n","x":116.5,"y":291.4},{"p":"f","id":"f31","t":"n","x":117.9,"y":307.6},{"p":"f","id":"f31","t":"n","x":118.8,"y":327.1},
{"p":"f","id":"f32","t":"n","x":117.4,"y":307.6},{"p":"f","id":"f32","t":"n","x":118.5,"y":323.8},{"p":"f","id":"f32","t":"n","x":119.7,"y":340},
{"p":"f","id":"f33","t":"c","x":45.5,"y":351},{"p":"f","id":"f33","t":"c","x":45.9,"y":344},{"p":"f","id":"f33","t":"c","x":47,"y":342.7},{"p":"f","id":"f33","t":"c","x":49.1,"y":344.5},{"p":"f","id":"f33","t":"c","x":52.8,"y":350},{"p":"f","id":"f33","t":"c","x":53.5,"y":351},
{"p":"f","id":"f34","t":"c","x":98.8,"y":351},{"p":"f","id":"f34","t":"c","x":99.4,"y":344},{"p":"f","id":"f34","t":"c","x":100,"y":347}
],
"T": [
{"p":"a","x":82,"y":30.5,"s":"28"},{"p":"a","x":84.2,"y":70.6,"s":"26"},{"p":"a","x":53,"y":97.6,"s":"24"},{"p":"a","x":82.9,"y":86.2,"s":"24"},{"p":"a","x":50.9,"y":112.8,"s":"22"},{"p":"a","x":83,"y":99.6,"s":"22"},{"p":"a","x":50,"y":126,"s":"20"},{"p":"a","x":81.7,"y":115.6,"s":"20"},{"p":"a","x":43.9,"y":133,"s":"18"},{"p":"a","x":75.8,"y":132.7,"s":"18"},{"p":"a","x":47.7,"y":164.5,"s":"16"},{"p":"a","x":86,"y":158,"s":"16"},{"p":"a","x":61.1,"y":210.4,"s":"14"},{"p":"a","x":47.7,"y":313,"s":"12"},
{"p":"b","x":83.8,"y":47.2,"s":"28"},{"p":"b","x":52.9,"y":48.8,"s":"26"},{"p":"b","x":84.8,"y":79.4,"s":"26"},{"p":"b","x":52.9,"y":75.5,"s":"24"},{"p":"b","x":84.8,"y":94.3,"s":"24"},{"p":"b","x":54.8,"y":98.5,"s":"22"},{"p":"b","x":84.8,"y":109.5,"s":"22"},{"p":"b","x":62.8,"y":113.4,"s":"20"},{"p":"b","x":45.9,"y":139.7,"s":"18"},{"p":"b","x":82.9,"y":136.5,"s":"18"},{"p":"b","x":45.9,"y":165.7,"s":"16"},{"p":"b","x":81.9,"y":162.5,"s":"16"},{"p":"b","x":45.9,"y":210.2,"s":"14"},{"p":"b","x":78.1,"y":203.1,"s":"14"},{"p":"b","x":47.9,"y":286.5,"s":"12"},{"p":"b","x":74.9,"y":283.2,"s":"12"},
{"p":"c","x":53.9,"y":76.1,"s":"28"},{"p":"c","x":82.1,"y":65.4,"s":"28"},{"p":"c","x":53.9,"y":88.8,"s":"26"},{"p":"c","x":82.1,"y":82.3,"s":"26"},{"p":"c","x":53.9,"y":101.8,"s":"24"},{"p":"c","x":53.9,"y":114.1,"s":"22"},{"p":"c","x":65.7,"y":124.8,"s":"20"},{"p":"c","x":63.9,"y":149.8,"s":"18"},{"p":"c","x":50,"y":204.4,"s":"16"},{"p":"c","x":51.9,"y":275.8,"s":"14"},{"p":"c","x":45.9,"y":341.4,"s":"12"},{"p":"c","x":82.1,"y":344.6,"s":"12"},
{"p":"d","x":63.9,"y":72.2,"s":"28"},{"p":"d","x":63.9,"y":85.2,"s":"26"},{"p":"d","x":63.9,"y":95.9,"s":"24"},{"p":"d","x":53.9,"y":110.8,"s":"22"},{"p":"d","x":83.9,"y":98.8,"s":"22"},{"p":"d","x":53.9,"y":125.8,"s":"20"},{"p":"d","x":83.9,"y":114.4,"s":"20"},{"p":"d","x":59.8,"y":150.8,"s":"18"},{"p":"d","x":58,"y":200.5,"s":"16"},{"p":"d","x":58,"y":270.9,"s":"14"},{"p":"d","x":71.6,"y":347.5,"s":"12"},
{"p":"e","x":47.9,"y":57.5,"s":"2"},{"p":"e","x":61.6,"y":70.9,"s":"1.5"},{"p":"e","x":91.7,"y":72,"s":"1.5"},{"p":"e","x":73.7,"y":59.5,"s":"2"},{"p":"e","x":74.4,"y":67.5,"s":"2.5"},{"p":"e","x":70.7,"y":94.4,"s":"1.5"},{"p":"e","x":44,"y":97,"s":"1.5"},{"p":"e","x":42.7,"y":133.5,"s":"1.5"},{"p":"e","x":54.8,"y":94.4,"s":"0.5"},{"p":"e","x":48.5,"y":148,"s":"0.5"},{"p":"e","x":84.5,"y":97.2,"s":"0.5"},{"p":"e","x":96.5,"y":135.8,"s":"0.5"},{"p":"e","x":58.7,"y":163.4,"s":"1.5"},{"p":"e","x":78.3,"y":220.5,"s":"1.5"},{"p":"e","x":64.6,"y":272.5,"s":"1.5"},{"p":"e","x":44.3,"y":235,"s":"1.5"},{"p":"e","x":51.6,"y":80.1,"s":"2"},
{"p":"f","x":63.9,"y":65.8,"s":"3"},{"p":"f","x":59,"y":50.5,"s":"2.5"},{"p":"f","x":59.1,"y":88.4,"s":"2.5"},{"p":"f","x":56.9,"y":36.5,"s":"2"},{"p":"f","x":55.8,"y":94,"s":"2"},{"p":"f","x":52.8,"y":99.2,"s":"1.5"},{"p":"f","x":44.3,"y":97,"s":"0.5"},{"p":"f","x":45,"y":153.4,"s":"1.5"},{"p":"f","x":62.5,"y":120.5,"s":"1.5"},{"p":"f","x":73.7,"y":202.1,"s":"1.5"},{"p":"f","x":52.8,"y":283.8,"s":"1.5"},{"p":"f","x":55.9,"y":160.8,"s":"2"},{"p":"f","x":49.8,"y":232.9,"s":"2"},{"p":"f","x":42.9,"y":242,"s":"2"},{"p":"f","x":80.5,"y":37.6,"s":"0.5"},{"p":"f","x":81.9,"y":153.1,"s":"0.5"},{"p":"f","x":91.9,"y":78,"s":"-0.5"},{"p":"f","x":86.7,"y":125.8,"s":"-0.5"},{"p":"f","x":87.6,"y":90.7,"s":"-1"},{"p":"f","x":97.4,"y":129.7,"s":"-1"}
]
},
"columns": 3,
"bounds": "flush",
"spacing": {"row": 76, "column": 102},
"concat": [
  {"width": 294, "height": 356, "resolve": {"axis": {"x": "independent"}},
   "title": {"text": "Analysis", "fontSize": 22, "fontWeight": 200, "offset": 9, "anchor": "middle"},
   "encoding": {"y": {"field": "y", "type": "quantitative", "scale": {"domain": [5, 351], "reverse": true, "nice": false, "zero": false}, "axis": {"values": [30,60,90,120,150,180,210,240,270,300,330], "grid": true, "gridDash": [1,3], "gridColor": "black", "gridOpacity": 1, "labelFontSize": 9, "labelPadding": 3, "title": null}}},
   "layer": [
    {"data": {"name": "L"}, "transform": [{"filter": "datum.p == 'a'"}],
     "mark": {"type": "line", "color": "black", "clip": true, "strokeJoin": "round"},
     "encoding": {
      "x": {"field": "x", "type": "quantitative", "scale": {"domain": [40, 120], "nice": false, "zero": false}, "axis": {"orient": "bottom", "values": [40,50,60,70,80,90,100,110,120], "labelExpr": "datum.value + 'E'", "grid": true, "gridDash": [1,3], "gridColor": "black", "gridOpacity": 1, "labelFontSize": 8, "labelPadding": 2, "title": null}},
      "detail": {"field": "id"},
      "order": {"value": null},
      "strokeWidth": {"field": "t", "type": "nominal", "scale": {"type": "ordinal", "domain": ["c","z","n","h"], "range": [1, 2.2, 0.9, 4]}, "legend": null},
      "strokeDash": {"field": "t", "type": "nominal", "scale": {"domain": ["c","z","n","h"], "range": [[1,0],[1,0],[3,2],[1,1]]}, "legend": null}
     }},
    {"data": {"name": "T"}, "transform": [{"filter": "datum.p == 'a'"}],
     "mark": {"type": "text", "fill": "white", "stroke": "white", "strokeWidth": 4, "fontSize": 9, "font": "Liberation Sans"},
     "encoding": {
      "x": {"field": "x", "type": "quantitative", "axis": {"orient": "top", "labels": false, "grid": false, "title": "JAS", "titleX": 11, "titleAlign": "left", "titleFontSize": 10, "titlePadding": 1}},
      "text": {"field": "s"}
     }},
    {"data": {"name": "T"}, "transform": [{"filter": "datum.p == 'a'"}],
     "mark": {"type": "text", "fill": "black", "fontSize": 9, "font": "Liberation Sans"},
     "encoding": {
      "x": {"field": "x", "type": "quantitative", "axis": {"orient": "top", "labels": false, "grid": false, "title": "a)", "titleAnchor": "end", "titleAlign": "right", "titleFontSize": 10, "titlePadding": 1}},
      "text": {"field": "s"}
     }}
   ]},
  {"width": 294, "height": 356, "resolve": {"axis": {"x": "independent"}},
   "title": {"text": "Model", "fontSize": 22, "fontWeight": 200, "offset": 9, "anchor": "middle"},
   "encoding": {"y": {"field": "y", "type": "quantitative", "scale": {"domain": [5, 351], "reverse": true, "nice": false, "zero": false}, "axis": {"values": [30,60,90,120,150,180,210,240,270,300,330], "grid": true, "gridDash": [1,3], "gridColor": "black", "gridOpacity": 1, "labelFontSize": 9, "labelPadding": 3, "title": null}}},
   "layer": [
    {"data": {"name": "L"}, "transform": [{"filter": "datum.p == 'c'"}],
     "mark": {"type": "line", "color": "black", "clip": true, "strokeJoin": "round"},
     "encoding": {
      "x": {"field": "x", "type": "quantitative", "scale": {"domain": [40, 120], "nice": false, "zero": false}, "axis": {"orient": "bottom", "values": [40,50,60,70,80,90,100,110,120], "labelExpr": "datum.value + 'E'", "grid": true, "gridDash": [1,3], "gridColor": "black", "gridOpacity": 1, "labelFontSize": 8, "labelPadding": 2, "title": null}},
      "detail": {"field": "id"},
      "order": {"value": null},
      "strokeWidth": {"field": "t", "type": "nominal", "scale": {"type": "ordinal", "domain": ["c","z","n","h"], "range": [1, 2.2, 0.9, 4]}, "legend": null},
      "strokeDash": {"field": "t", "type": "nominal", "scale": {"domain": ["c","z","n","h"], "range": [[1,0],[1,0],[3,2],[1,1]]}, "legend": null}
     }},
    {"data": {"name": "T"}, "transform": [{"filter": "datum.p == 'c'"}],
     "mark": {"type": "text", "fill": "white", "stroke": "white", "strokeWidth": 4, "fontSize": 9, "font": "Liberation Sans"},
     "encoding": {
      "x": {"field": "x", "type": "quantitative", "axis": {"orient": "top", "labels": false, "grid": false, "title": "JAS", "titleX": 11, "titleAlign": "left", "titleFontSize": 10, "titlePadding": 1}},
      "text": {"field": "s"}
     }},
    {"data": {"name": "T"}, "transform": [{"filter": "datum.p == 'c'"}],
     "mark": {"type": "text", "fill": "black", "fontSize": 9, "font": "Liberation Sans"},
     "encoding": {
      "x": {"field": "x", "type": "quantitative", "axis": {"orient": "top", "labels": false, "grid": false, "title": "c)", "titleAnchor": "end", "titleAlign": "right", "titleFontSize": 10, "titlePadding": 1}},
      "text": {"field": "s"}
     }}
   ]},
  {"width": 294, "height": 356, "resolve": {"axis": {"x": "independent"}},
   "title": {"text": "Model−Analysis", "fontSize": 22, "fontWeight": 200, "offset": 9, "anchor": "middle"},
   "encoding": {"y": {"field": "y", "type": "quantitative", "scale": {"domain": [5, 351], "reverse": true, "nice": false, "zero": false}, "axis": {"values": [30,60,90,120,150,180,210,240,270,300,330], "grid": true, "gridDash": [1,3], "gridColor": "black", "gridOpacity": 1, "labelFontSize": 9, "labelPadding": 3, "title": null}}},
   "layer": [
    {"data": {"name": "L"}, "transform": [{"filter": "datum.p == 'e'"}],
     "mark": {"type": "line", "color": "black", "clip": true, "strokeJoin": "round"},
     "encoding": {
      "x": {"field": "x", "type": "quantitative", "scale": {"domain": [40, 120], "nice": false, "zero": false}, "axis": {"orient": "bottom", "values": [40,50,60,70,80,90,100,110,120], "labelExpr": "datum.value + 'E'", "grid": true, "gridDash": [1,3], "gridColor": "black", "gridOpacity": 1, "labelFontSize": 8, "labelPadding": 2, "title": null}},
      "detail": {"field": "id"},
      "order": {"value": null},
      "strokeWidth": {"field": "t", "type": "nominal", "scale": {"type": "ordinal", "domain": ["c","z","n","h"], "range": [1, 2.2, 0.9, 4]}, "legend": null},
      "strokeDash": {"field": "t", "type": "nominal", "scale": {"domain": ["c","z","n","h"], "range": [[1,0],[1,0],[3,2],[1,1]]}, "legend": null}
     }},
    {"data": {"name": "T"}, "transform": [{"filter": "datum.p == 'e'"}],
     "mark": {"type": "text", "fill": "white", "stroke": "white", "strokeWidth": 4, "fontSize": 9, "font": "Liberation Sans"},
     "encoding": {
      "x": {"field": "x", "type": "quantitative", "axis": {"orient": "top", "labels": false, "grid": false, "title": "JAS", "titleX": 11, "titleAlign": "left", "titleFontSize": 10, "titlePadding": 1}},
      "text": {"field": "s"}
     }},
    {"data": {"name": "T"}, "transform": [{"filter": "datum.p == 'e'"}],
     "mark": {"type": "text", "fill": "black", "fontSize": 9, "font": "Liberation Sans"},
     "encoding": {
      "x": {"field": "x", "type": "quantitative", "axis": {"orient": "top", "labels": false, "grid": false, "title": "e)", "titleAnchor": "end", "titleAlign": "right", "titleFontSize": 10, "titlePadding": 1}},
      "text": {"field": "s"}
     }}
   ]},
  {"width": 294, "height": 356, "resolve": {"axis": {"x": "independent"}},
   "encoding": {"y": {"field": "y", "type": "quantitative", "scale": {"domain": [5, 351], "reverse": true, "nice": false, "zero": false}, "axis": {"values": [30,60,90,120,150,180,210,240,270,300,330], "grid": true, "gridDash": [1,3], "gridColor": "black", "gridOpacity": 1, "labelFontSize": 9, "labelPadding": 3, "title": null}}},
   "layer": [
    {"data": {"name": "L"}, "transform": [{"filter": "datum.p == 'b'"}],
     "mark": {"type": "line", "color": "black", "clip": true, "strokeJoin": "round"},
     "encoding": {
      "x": {"field": "x", "type": "quantitative", "scale": {"domain": [40, 120], "nice": false, "zero": false}, "axis": {"orient": "bottom", "values": [40,50,60,70,80,90,100,110,120], "labelExpr": "datum.value + 'E'", "grid": true, "gridDash": [1,3], "gridColor": "black", "gridOpacity": 1, "labelFontSize": 8, "labelPadding": 2, "title": null}},
      "detail": {"field": "id"},
      "order": {"value": null},
      "strokeWidth": {"field": "t", "type": "nominal", "scale": {"type": "ordinal", "domain": ["c","z","n","h"], "range": [1, 2.2, 0.9, 4]}, "legend": null},
      "strokeDash": {"field": "t", "type": "nominal", "scale": {"domain": ["c","z","n","h"], "range": [[1,0],[1,0],[3,2],[1,1]]}, "legend": null}
     }},
    {"data": {"name": "T"}, "transform": [{"filter": "datum.p == 'b'"}],
     "mark": {"type": "text", "fill": "white", "stroke": "white", "strokeWidth": 4, "fontSize": 9, "font": "Liberation Sans"},
     "encoding": {
      "x": {"field": "x", "type": "quantitative", "axis": {"orient": "top", "labels": false, "grid": false, "title": "OND", "titleX": 11, "titleAlign": "left", "titleFontSize": 10, "titlePadding": 1}},
      "text": {"field": "s"}
     }},
    {"data": {"name": "T"}, "transform": [{"filter": "datum.p == 'b'"}],
     "mark": {"type": "text", "fill": "black", "fontSize": 9, "font": "Liberation Sans"},
     "encoding": {
      "x": {"field": "x", "type": "quantitative", "axis": {"orient": "top", "labels": false, "grid": false, "title": "b)", "titleAnchor": "end", "titleAlign": "right", "titleFontSize": 10, "titlePadding": 1}},
      "text": {"field": "s"}
     }}
   ]},
  {"width": 294, "height": 356, "resolve": {"axis": {"x": "independent"}},
   "encoding": {"y": {"field": "y", "type": "quantitative", "scale": {"domain": [5, 351], "reverse": true, "nice": false, "zero": false}, "axis": {"values": [30,60,90,120,150,180,210,240,270,300,330], "grid": true, "gridDash": [1,3], "gridColor": "black", "gridOpacity": 1, "labelFontSize": 9, "labelPadding": 3, "title": null}}},
   "layer": [
    {"data": {"name": "L"}, "transform": [{"filter": "datum.p == 'd'"}],
     "mark": {"type": "line", "color": "black", "clip": true, "strokeJoin": "round"},
     "encoding": {
      "x": {"field": "x", "type": "quantitative", "scale": {"domain": [40, 120], "nice": false, "zero": false}, "axis": {"orient": "bottom", "values": [40,50,60,70,80,90,100,110,120], "labelExpr": "datum.value + 'E'", "grid": true, "gridDash": [1,3], "gridColor": "black", "gridOpacity": 1, "labelFontSize": 8, "labelPadding": 2, "title": null}},
      "detail": {"field": "id"},
      "order": {"value": null},
      "strokeWidth": {"field": "t", "type": "nominal", "scale": {"type": "ordinal", "domain": ["c","z","n","h"], "range": [1, 2.2, 0.9, 4]}, "legend": null},
      "strokeDash": {"field": "t", "type": "nominal", "scale": {"domain": ["c","z","n","h"], "range": [[1,0],[1,0],[3,2],[1,1]]}, "legend": null}
     }},
    {"data": {"name": "T"}, "transform": [{"filter": "datum.p == 'd'"}],
     "mark": {"type": "text", "fill": "white", "stroke": "white", "strokeWidth": 4, "fontSize": 9, "font": "Liberation Sans"},
     "encoding": {
      "x": {"field": "x", "type": "quantitative", "axis": {"orient": "top", "labels": false, "grid": false, "title": "OND", "titleX": 11, "titleAlign": "left", "titleFontSize": 10, "titlePadding": 1}},
      "text": {"field": "s"}
     }},
    {"data": {"name": "T"}, "transform": [{"filter": "datum.p == 'd'"}],
     "mark": {"type": "text", "fill": "black", "fontSize": 9, "font": "Liberation Sans"},
     "encoding": {
      "x": {"field": "x", "type": "quantitative", "axis": {"orient": "top", "labels": false, "grid": false, "title": "d)", "titleAnchor": "end", "titleAlign": "right", "titleFontSize": 10, "titlePadding": 1}},
      "text": {"field": "s"}
     }}
   ]},
  {"width": 294, "height": 356, "resolve": {"axis": {"x": "independent"}},
   "encoding": {"y": {"field": "y", "type": "quantitative", "scale": {"domain": [5, 351], "reverse": true, "nice": false, "zero": false}, "axis": {"values": [30,60,90,120,150,180,210,240,270,300,330], "grid": true, "gridDash": [1,3], "gridColor": "black", "gridOpacity": 1, "labelFontSize": 9, "labelPadding": 3, "title": null}}},
   "layer": [
    {"data": {"name": "L"}, "transform": [{"filter": "datum.p == 'f'"}],
     "mark": {"type": "line", "color": "black", "clip": true, "strokeJoin": "round"},
     "encoding": {
      "x": {"field": "x", "type": "quantitative", "scale": {"domain": [40, 120], "nice": false, "zero": false}, "axis": {"orient": "bottom", "values": [40,50,60,70,80,90,100,110,120], "labelExpr": "datum.value + 'E'", "grid": true, "gridDash": [1,3], "gridColor": "black", "gridOpacity": 1, "labelFontSize": 8, "labelPadding": 2, "title": null}},
      "detail": {"field": "id"},
      "order": {"value": null},
      "strokeWidth": {"field": "t", "type": "nominal", "scale": {"type": "ordinal", "domain": ["c","z","n","h"], "range": [1, 2.2, 0.9, 4]}, "legend": null},
      "strokeDash": {"field": "t", "type": "nominal", "scale": {"domain": ["c","z","n","h"], "range": [[1,0],[1,0],[3,2],[1,1]]}, "legend": null}
     }},
    {"data": {"name": "T"}, "transform": [{"filter": "datum.p == 'f'"}],
     "mark": {"type": "text", "fill": "white", "stroke": "white", "strokeWidth": 4, "fontSize": 9, "font": "Liberation Sans"},
     "encoding": {
      "x": {"field": "x", "type": "quantitative", "axis": {"orient": "top", "labels": false, "grid": false, "title": "OND", "titleX": 11, "titleAlign": "left", "titleFontSize": 10, "titlePadding": 1}},
      "text": {"field": "s"}
     }},
    {"data": {"name": "T"}, "transform": [{"filter": "datum.p == 'f'"}],
     "mark": {"type": "text", "fill": "black", "fontSize": 9, "font": "Liberation Sans"},
     "encoding": {
      "x": {"field": "x", "type": "quantitative", "axis": {"orient": "top", "labels": false, "grid": false, "title": "f)", "titleAnchor": "end", "titleAlign": "right", "titleFontSize": 10, "titlePadding": 1}},
      "text": {"field": "s"}
     }}
   ]}
]
}
